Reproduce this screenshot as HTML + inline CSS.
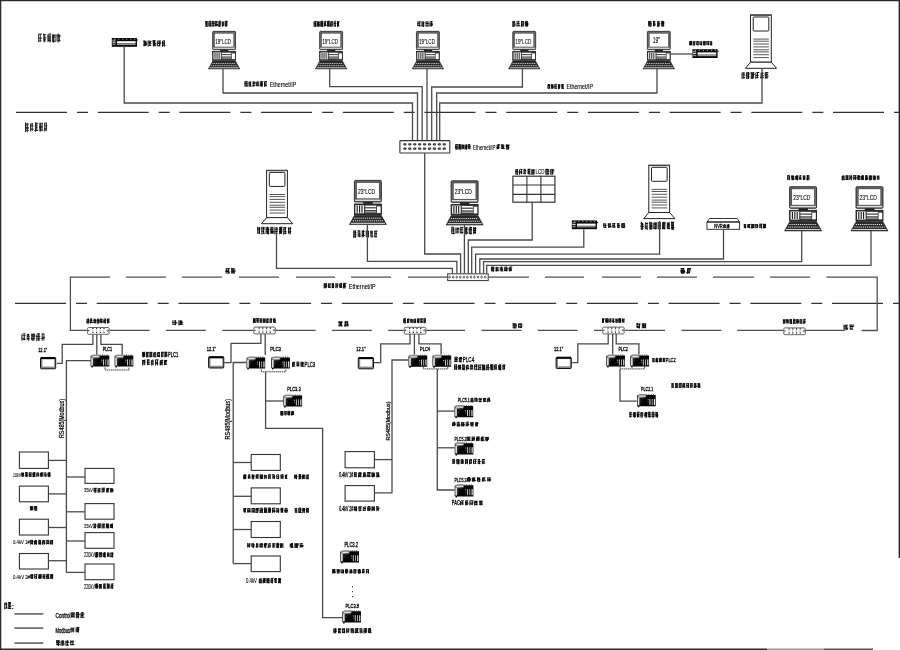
<!DOCTYPE html>
<html><head><meta charset="utf-8"><style>
html,body{margin:0;padding:0;background:#fff;width:900px;height:650px;overflow:hidden}
svg{display:block;will-change:transform}
</style></head><body>
<svg width="900" height="650" viewBox="0 0 900 650" font-family="Liberation Sans, sans-serif">
<rect width="900" height="650" fill="#fff"/>
<line x1="0" y1="0.6" x2="900" y2="0.6" stroke="#2a2a2a" stroke-width="1.4" />
<line x1="0.6" y1="0" x2="0.6" y2="650" stroke="#2a2a2a" stroke-width="1.4" />
<line x1="899.3" y1="0" x2="899.3" y2="558" stroke="#2a2a2a" stroke-width="1.4" />
<line x1="0" y1="649.3" x2="767" y2="649.3" stroke="#2a2a2a" stroke-width="1.4" />
<line x1="767" y1="649.3" x2="824" y2="649.3" stroke="#999" stroke-width="1.4" />
<line x1="824" y1="649.3" x2="873" y2="649.3" stroke="#555" stroke-width="1.4" />
<line x1="16" y1="112.3" x2="900" y2="112.3" stroke="#333" stroke-width="1.2" stroke-dasharray="51 10 11 9.7"/>
<line x1="15" y1="303.3" x2="900" y2="303.3" stroke="#333" stroke-width="1.2" stroke-dasharray="51 10 11 9.7"/>
<path d="M39.17 34.1H41.96M38.95 38.14H42.12M39.18 40.97H41.45M38.63 33.65V42.19M40.27 33.98V41.58M43.18 34.61H45.58M43.41 37.95H46.36M43.16 39.94H46.12M43.87 33.62V41.91M44.81 34.17V42.23M48.3 34.03H51.13M47.56 36.84H50.78M47.76 38.87H50.74M48.14 40.51H50.87M47.94 34.23V41.87M49 34.44V41.75M50.19 34.18V42.66M53.11 35.24H55.4M52.59 37.09H55.49M52.98 41.2H55.43M52.41 34.25V42.02M53.49 34.42V42.66M55.05 34.38V41.98M56.67 35.42H60.5M57.74 36.75H60.39M57.63 40.64H60.41M56.99 34.34V41.48M58.17 33.4V42.7M59.38 34.4V41.52" fill="none" stroke="#111" stroke-width="0.9"/>
<path d="M25.59 123.91H28.62M25.32 125.04H28.54M25.52 127.38H28.84M25.91 128.67H28.72M26.09 130.64H28.85M25.49 122.34V131.94M27.25 123.43V132.26M30.73 124H32.98M30.02 125.92H33.56M30.36 129.19H33.7M30.58 123.71V131.41M32.21 122.91V130.96M35.32 123.29H38.34M35.24 125.62H37.46M35.05 127.76H37.55M34.45 130.49H38.24M35.45 122.33V131.97M36.73 122.88V131.06M39.97 123.32H42.8M39.11 126.28H42.43M39.3 127.68H42.05M39.59 129.96H42.55M39.85 122.72V131.34M40.64 123.43V131.44M42.13 123.34V131.06M44.83 123.16H47.11M44.45 125.84H47.37M44.25 128.34H47.11M43.75 129.91H46.62M44.71 122.59V131.58M46.38 123.1V130.84" fill="none" stroke="#111" stroke-width="0.9"/>
<path d="M22.5 333.85H25.56M22.36 335.7H25.52M21.55 338.26H25.18M22.36 339.57H25.47M21.86 334.15V340.71M24.3 334.23V340.19M27.19 334.36H29.29M26.81 336.12H29.94M26.71 338.78H30.15M27.3 334.23V339.95M28.67 333.86V340.88M31.44 334.36H34.96M31.42 335.74H35.36M32.1 336.74H35.21M31.37 338.64H34.78M31.67 339.86H34.18M31.71 333.81V340.14M32.97 333.47V340.76M34.08 333.53V340.22M37.11 333.85H40.05M36.39 336.4H40.29M37 338.77H40.36M36.73 334.47V340.95M38.15 333.33V341.01M39.04 333.96V341.08M41.77 333.79H44.01M42.21 337.32H44.83M41.28 338.45H44.18M42.16 333.96V340.71M44.01 333.55V340.6" fill="none" stroke="#111" stroke-width="0.9"/>
<g transform="translate(111.8 38)">
<rect x="0" y="0" width="25.2" height="8.8" fill="#0a0a0a"/>
<path d="M2.5 1.2H24.5" stroke="#fff" stroke-width="0.7" stroke-dasharray="1 3"/>
<rect x="5.2" y="3.2" width="18.6" height="2.2" fill="#fff"/>
<rect x="5.2" y="5.8" width="18.6" height="1.2" fill="#999"/>
<rect x="0.6" y="1.6" width="3.2" height="1.4" fill="#888"/>
<rect x="0.6" y="3.6" width="3.2" height="1.2" fill="#ddd"/>
<rect x="0.6" y="5.6" width="3.2" height="1.4" fill="#888"/>
<path d="M25.2 1.4L26.8 1.8L25.2 3" fill="#111"/>
</g>
<path d="M143.5 41.29H146.25M143.99 42.43H146.78M144.17 43.54H146.75M143.71 44.45H146.94M143.79 45.42H146.2M144.03 40.2V46.37M145.8 41.06V45.87M148.49 41.31H151.63M148.5 42.55H150.87M148.68 43.69H151.54M148.48 45.4H151.2M148.09 40.36V46.62M149.79 40.78V45.92M152.49 40.73H155.67M152.55 42.13H155.43M153.05 43.49H156.11M153.14 44.46H155.57M153.04 45.35H156.24M153.35 40.48V46.4M154.52 40.4V46.37M157.67 41H161M157.98 42.77H161.04M157.38 43.66H161M158.05 45.72H160.3M157.33 40.74V46.44M159.67 41.12V46.32M162.76 40.81H164.96M162.69 42.42H164.62M161.89 43.71H164.91M162.35 45.11H165.58M162.47 41.13V46.65M164.22 40.98V46.8" fill="none" stroke="#0a0a0a" stroke-width="0.95"/>
<g transform="translate(212.3 31) scale(0.85)">
<rect x="0.4" y="0.4" width="27" height="21.6" rx="1" fill="#6a6a6a" stroke="#111" stroke-width="0.8"/>
<rect x="2.6" y="2.6" width="22.6" height="16.2" fill="#fff" stroke="#222" stroke-width="0.5"/>
<rect x="1.2" y="19.6" width="25.4" height="1.4" fill="#ddd"/>
<rect x="9.2" y="22" width="9.6" height="1.8" fill="#222"/>
<rect x="0.4" y="24" width="27" height="10.4" fill="#3a3a3a" stroke="#111" stroke-width="0.8"/>
<rect x="1.4" y="25.2" width="8.6" height="8" fill="#fff"/>
<path d="M3.2 25.6V32.8M5.6 25.6V32.8M8 25.6V32.8" stroke="#111" stroke-width="1.1"/>
<rect x="11.2" y="25.6" width="11" height="1.6" fill="#fff"/>
<rect x="11.2" y="28.4" width="11" height="1.6" fill="#fff"/>
<rect x="11.2" y="31.2" width="11" height="1.2" fill="#bbb"/>
<rect x="23" y="26.4" width="3.6" height="6.6" fill="#fff"/>
<polygon points="0.6,35.2 27.2,35.2 32.4,44.6 -4.6,44.6" fill="#2a2a2a" stroke="#111" stroke-width="0.6"/>
<path d="M0.2 38.2H27.6" stroke="#fff" stroke-width="0.9" stroke-dasharray="1.2 0.9"/>
<path d="M-1.2 40.8H29" stroke="#fff" stroke-width="0.9" stroke-dasharray="1.2 0.9"/>
<path d="M-3.2 43.3H31" stroke="#e8e8e8" stroke-width="1"/>
<text x="12.85" y="15.5" text-anchor="middle" font-family="Liberation Sans" font-size="9" fill="#000" stroke="#000" stroke-width="0.1" textLength="18.7" lengthAdjust="spacingAndGlyphs">19&quot;LCD</text>
</g>
<path d="M205.32 21.5H207.65M205.86 22.32H207.85M205.65 23.63H207.62M205.99 24.93H208M205.56 26.23H207.9M205.86 21.02V26.24M206.74 21.73V26.4M209.08 21.35H211.22M208.77 23.16H211.34M209.11 24.33H210.7M208.48 25.83H211.33M208.87 21.26V26.21M210.31 21.17V26.95M211.98 21.54H214.56M211.97 23.47H214.66M212.4 25.91H214.57M212.01 21.51V26.73M213 21.07V26.29M213.96 21.51V26.14M215.8 21.63H217.6M215.87 22.7H217.22M215.12 24.6H217.94M215.47 25.47H217.75M215.6 21.05V26.52M216.82 21.16V26.29M218.8 21.2H221.14M219.14 22.38H220.76M219.2 23.74H221.2M218.39 25.06H220.91M218.42 25.97H220.38M218.94 21.11V26.96M219.9 21.18V26.79M221.83 22.16H224.23M221.89 24.08H224.32M222.17 25.29H223.83M222.34 21.67V26.69M223.22 21.73V26.29M225.1 21.25H227.8M225.73 22.75H227.01M225.7 23.98H227.46M225.15 25.06H227.13M225.63 25.7H226.94M225.18 21.25V26.29M226.05 21.01V26.8M226.81 21.14V26.35" fill="none" stroke="#0a0a0a" stroke-width="0.95"/>
<g transform="translate(319.3 31) scale(0.85)">
<rect x="0.4" y="0.4" width="27" height="21.6" rx="1" fill="#6a6a6a" stroke="#111" stroke-width="0.8"/>
<rect x="2.6" y="2.6" width="22.6" height="16.2" fill="#fff" stroke="#222" stroke-width="0.5"/>
<rect x="1.2" y="19.6" width="25.4" height="1.4" fill="#ddd"/>
<rect x="9.2" y="22" width="9.6" height="1.8" fill="#222"/>
<rect x="0.4" y="24" width="27" height="10.4" fill="#3a3a3a" stroke="#111" stroke-width="0.8"/>
<rect x="1.4" y="25.2" width="8.6" height="8" fill="#fff"/>
<path d="M3.2 25.6V32.8M5.6 25.6V32.8M8 25.6V32.8" stroke="#111" stroke-width="1.1"/>
<rect x="11.2" y="25.6" width="11" height="1.6" fill="#fff"/>
<rect x="11.2" y="28.4" width="11" height="1.6" fill="#fff"/>
<rect x="11.2" y="31.2" width="11" height="1.2" fill="#bbb"/>
<rect x="23" y="26.4" width="3.6" height="6.6" fill="#fff"/>
<polygon points="0.6,35.2 27.2,35.2 32.4,44.6 -4.6,44.6" fill="#2a2a2a" stroke="#111" stroke-width="0.6"/>
<path d="M0.2 38.2H27.6" stroke="#fff" stroke-width="0.9" stroke-dasharray="1.2 0.9"/>
<path d="M-1.2 40.8H29" stroke="#fff" stroke-width="0.9" stroke-dasharray="1.2 0.9"/>
<path d="M-3.2 43.3H31" stroke="#e8e8e8" stroke-width="1"/>
<text x="12.85" y="15.5" text-anchor="middle" font-family="Liberation Sans" font-size="9" fill="#000" stroke="#000" stroke-width="0.1" textLength="18.7" lengthAdjust="spacingAndGlyphs">19&quot;LCD</text>
</g>
<path d="M314.46 21.36H316.49M314.26 23.39H316.12M314.51 24.19H316.4M314.59 25.92H316.69M314.05 21.52V26.89M315.24 21.13V26.96M315.79 21.13V26.47M317.31 21.95H319.44M317.43 22.71H319.61M317.57 24.67H319.85M317.45 26.02H319.66M317.43 21.66V26.4M318.44 21.7V26.48M319.03 21.55V26.54M321.14 21.31H323.19M321.15 23.2H323.26M321.14 24.63H322.79M320.99 25.6H322.49M320.72 21.17V26.73M321.7 21.12V26.89M322.57 21.43V26.97M324.53 21.48H326.41M323.76 24.03H326.34M323.78 25.45H326.58M324.32 21.58V26.61M325.42 21.15V26.22M327.64 21.29H329.88M327.65 23.86H329.34M327.82 25.41H329.73M327.45 21.02V26.66M328.44 21.63V26.38M329.15 20.91V26.92M330.66 21.73H333.02M331.04 22.91H332.77M330.31 24.31H332.85M330.8 25.95H332.36M330.7 21.63V26.96M332.15 21.71V26.7M334.36 21.18H335.7M333.74 23.3H336.38M334.44 25.93H335.71M334.14 21.58V26.46M335.32 21.25V26.83M337.66 21.86H339.71M337.65 23.44H339M337.23 25.89H339.31M337.49 21.02V26.95M338.51 21.52V26.13" fill="none" stroke="#0a0a0a" stroke-width="0.95"/>
<g transform="translate(416.1 31) scale(0.85)">
<rect x="0.4" y="0.4" width="27" height="21.6" rx="1" fill="#6a6a6a" stroke="#111" stroke-width="0.8"/>
<rect x="2.6" y="2.6" width="22.6" height="16.2" fill="#fff" stroke="#222" stroke-width="0.5"/>
<rect x="1.2" y="19.6" width="25.4" height="1.4" fill="#ddd"/>
<rect x="9.2" y="22" width="9.6" height="1.8" fill="#222"/>
<rect x="0.4" y="24" width="27" height="10.4" fill="#3a3a3a" stroke="#111" stroke-width="0.8"/>
<rect x="1.4" y="25.2" width="8.6" height="8" fill="#fff"/>
<path d="M3.2 25.6V32.8M5.6 25.6V32.8M8 25.6V32.8" stroke="#111" stroke-width="1.1"/>
<rect x="11.2" y="25.6" width="11" height="1.6" fill="#fff"/>
<rect x="11.2" y="28.4" width="11" height="1.6" fill="#fff"/>
<rect x="11.2" y="31.2" width="11" height="1.2" fill="#bbb"/>
<rect x="23" y="26.4" width="3.6" height="6.6" fill="#fff"/>
<polygon points="0.6,35.2 27.2,35.2 32.4,44.6 -4.6,44.6" fill="#2a2a2a" stroke="#111" stroke-width="0.6"/>
<path d="M0.2 38.2H27.6" stroke="#fff" stroke-width="0.9" stroke-dasharray="1.2 0.9"/>
<path d="M-1.2 40.8H29" stroke="#fff" stroke-width="0.9" stroke-dasharray="1.2 0.9"/>
<path d="M-3.2 43.3H31" stroke="#e8e8e8" stroke-width="1"/>
<text x="12.85" y="15.5" text-anchor="middle" font-family="Liberation Sans" font-size="9" fill="#000" stroke="#000" stroke-width="0.1" textLength="18.7" lengthAdjust="spacingAndGlyphs">19&quot;LCD</text>
</g>
<path d="M417.85 21.93H420.58M417.27 23.72H419.94M417.77 25.42H420.46M417.82 21.7V26.18M419.76 21.02V26.87M422.13 22.17H424.71M421.67 23.91H424.32M421.54 25.74H424.45M422.03 21.17V26.65M423.41 21.61V26.94M426.12 21.87H428.15M425.79 23.56H428.71M426.25 25.78H428.84M426 21.63V26.8M428 21.59V26.38M430.31 21.54H432.62M430.28 23.36H432.72M430.35 24.66H432.94M430.46 25.37H432.61M430.02 21.53V26.78M431.58 21.15V26.48" fill="none" stroke="#0a0a0a" stroke-width="0.95"/>
<g transform="translate(512.4 31) scale(0.85)">
<rect x="0.4" y="0.4" width="27" height="21.6" rx="1" fill="#6a6a6a" stroke="#111" stroke-width="0.8"/>
<rect x="2.6" y="2.6" width="22.6" height="16.2" fill="#fff" stroke="#222" stroke-width="0.5"/>
<rect x="1.2" y="19.6" width="25.4" height="1.4" fill="#ddd"/>
<rect x="9.2" y="22" width="9.6" height="1.8" fill="#222"/>
<rect x="0.4" y="24" width="27" height="10.4" fill="#3a3a3a" stroke="#111" stroke-width="0.8"/>
<rect x="1.4" y="25.2" width="8.6" height="8" fill="#fff"/>
<path d="M3.2 25.6V32.8M5.6 25.6V32.8M8 25.6V32.8" stroke="#111" stroke-width="1.1"/>
<rect x="11.2" y="25.6" width="11" height="1.6" fill="#fff"/>
<rect x="11.2" y="28.4" width="11" height="1.6" fill="#fff"/>
<rect x="11.2" y="31.2" width="11" height="1.2" fill="#bbb"/>
<rect x="23" y="26.4" width="3.6" height="6.6" fill="#fff"/>
<polygon points="0.6,35.2 27.2,35.2 32.4,44.6 -4.6,44.6" fill="#2a2a2a" stroke="#111" stroke-width="0.6"/>
<path d="M0.2 38.2H27.6" stroke="#fff" stroke-width="0.9" stroke-dasharray="1.2 0.9"/>
<path d="M-1.2 40.8H29" stroke="#fff" stroke-width="0.9" stroke-dasharray="1.2 0.9"/>
<path d="M-3.2 43.3H31" stroke="#e8e8e8" stroke-width="1"/>
<text x="12.85" y="15.5" text-anchor="middle" font-family="Liberation Sans" font-size="9" fill="#000" stroke="#000" stroke-width="0.1" textLength="18.7" lengthAdjust="spacingAndGlyphs">19&quot;LCD</text>
</g>
<path d="M512.6 21.74H515.02M513.05 22.59H515.1M512.88 24.01H515.78M513.01 25.15H515.62M512.72 26.12H515.12M512.83 21.13V26.97M514.17 20.83V26.17M517.43 21.39H519.26M516.95 23.53H519.27M516.56 25.86H520.23M517.04 21.26V26.24M518.82 21.02V26.18M521.4 21.47H523.84M521.14 23.05H524.41M521.76 24.74H523.88M521.52 25.92H523.92M521.48 21.41V26.83M523.27 20.96V26.17M525.47 21.46H527.67M525.17 22.89H527.71M525.23 23.57H528.45M525.31 24.64H528.47M525.48 26.04H528.13M525.42 21.22V26.25M526.65 21.35V26.16M527.59 21.67V26.12" fill="none" stroke="#0a0a0a" stroke-width="0.95"/>
<g transform="translate(647 31) scale(0.85)">
<rect x="0.4" y="0.4" width="27" height="21.6" rx="1" fill="#6a6a6a" stroke="#111" stroke-width="0.8"/>
<rect x="2.6" y="2.6" width="22.6" height="16.2" fill="#fff" stroke="#222" stroke-width="0.5"/>
<rect x="1.2" y="19.6" width="25.4" height="1.4" fill="#ddd"/>
<rect x="9.2" y="22" width="9.6" height="1.8" fill="#222"/>
<rect x="0.4" y="24" width="27" height="10.4" fill="#3a3a3a" stroke="#111" stroke-width="0.8"/>
<rect x="1.4" y="25.2" width="8.6" height="8" fill="#fff"/>
<path d="M3.2 25.6V32.8M5.6 25.6V32.8M8 25.6V32.8" stroke="#111" stroke-width="1.1"/>
<rect x="11.2" y="25.6" width="11" height="1.6" fill="#fff"/>
<rect x="11.2" y="28.4" width="11" height="1.6" fill="#fff"/>
<rect x="11.2" y="31.2" width="11" height="1.2" fill="#bbb"/>
<rect x="23" y="26.4" width="3.6" height="6.6" fill="#fff"/>
<polygon points="0.6,35.2 27.2,35.2 32.4,44.6 -4.6,44.6" fill="#2a2a2a" stroke="#111" stroke-width="0.6"/>
<path d="M0.2 38.2H27.6" stroke="#fff" stroke-width="0.9" stroke-dasharray="1.2 0.9"/>
<path d="M-1.2 40.8H29" stroke="#fff" stroke-width="0.9" stroke-dasharray="1.2 0.9"/>
<path d="M-3.2 43.3H31" stroke="#e8e8e8" stroke-width="1"/>
<text x="11" y="14.4" text-anchor="middle" font-family="Liberation Sans" font-size="10" fill="#000" stroke="#000" stroke-width="0.1" textLength="8.6" lengthAdjust="spacingAndGlyphs">19&quot;</text>
</g>
<path d="M648.65 21.75H651.54M648.55 23.24H651.4M648.62 24.04H651.91M649.37 26.04H651.69M648.61 21.05V26.29M649.77 20.89V26.59M650.88 21.34V26.27M653.08 21.51H655.28M653.07 23.98H655.67M653.12 25.14H655.58M653.5 20.96V26.29M654.61 21.51V26.19M657.47 21.49H659.61M657.22 22.95H659.72M657.72 23.87H660.41M657.43 24.77H659.63M656.82 26.02H659.9M657.78 21.39V26.93M658.74 21.58V26.16M661.06 21.4H663.91M661.77 22.58H664.32M661.62 23.48H664.01M662.04 24.53H663.68M661.78 25.7H663.7M661.75 20.96V26.49M662.56 21.62V26.38M663.7 21.49V26.71" fill="none" stroke="#0a0a0a" stroke-width="0.95"/>
<g transform="translate(692.4 49.2)">
<rect x="0" y="0" width="25.2" height="8.8" fill="#0a0a0a"/>
<path d="M2.5 1.2H24.5" stroke="#fff" stroke-width="0.7" stroke-dasharray="1 3"/>
<rect x="5.2" y="3.2" width="18.6" height="2.2" fill="#fff"/>
<rect x="5.2" y="5.8" width="18.6" height="1.2" fill="#999"/>
<rect x="0.6" y="1.6" width="3.2" height="1.4" fill="#888"/>
<rect x="0.6" y="3.6" width="3.2" height="1.2" fill="#ddd"/>
<rect x="0.6" y="5.6" width="3.2" height="1.4" fill="#888"/>
<path d="M25.2 1.4L26.8 1.8L25.2 3" fill="#111"/>
</g>
<path d="M689.44 41.58H691.92M689.7 42.5H691.68M689.64 43.4H692.02M689.44 43.89H691.39M689.22 44.77H692.14M689.71 41.55V45M690.47 41.08V45.29M691.55 41.17V45.15M693.43 41.76H695.58M693.15 42.63H695.04M693.48 43.49H695.14M692.84 44.98H694.86M693.15 41.07V45.31M694.73 41.58V45.36M696.71 41.61H698.97M696.42 43.08H698.41M696.28 44.61H698.68M696.83 41.03V45.04M698.12 41.66V45.6M699.88 42.08H702.31M700.29 43.32H701.9M699.89 44.43H702.14M699.91 41.35V44.95M701.55 41.35V45.57M703.56 41.56H705.85M703.44 42.41H705.35M703.28 43.11H705.43M703.71 43.8H705.43M703.54 45.03H705.44M703.36 41.31V45.25M704.15 41.63V45M704.94 41.36V45.11M706.92 41.76H709.33M707.17 43.04H708.72M706.56 44.22H709.22M706.84 41.02V44.94M708.38 41.4V45.38M709.92 41.81H711.94M710.2 43.16H712.17M710.24 44.67H712.1M710.21 41.54V45.31M711.67 41.33V45.5" fill="none" stroke="#0a0a0a" stroke-width="0.95"/>
<line x1="671" y1="54" x2="692.4" y2="54" stroke="#4a4a4a" stroke-width="1.3" />
<g transform="translate(750 14.4)">
<rect x="0.5" y="0.5" width="20.8" height="47.3" fill="#fff" stroke="#222" stroke-width="1"/>
<path d="M0.5 0.8H21.3" stroke="#444" stroke-width="1.2"/>
<rect x="3.2" y="2.6" width="15.6" height="14" rx="0.8" fill="#fff" stroke="#222" stroke-width="1"/>
<path d="M3.3 24.7H18.9M3.3 26.8H18.9M3.3 29.6H18.9M3.3 32.5H18.9M3.3 35.4H18.9M3.3 37.5H18.9M3.3 40.3H18.9M3.3 43.2H18.9" stroke="#444" stroke-width="0.9"/>
<polygon points="0.5,47.8 21.3,47.8 26.6,53.9 -4.6,53.9" fill="#fff" stroke="#222" stroke-width="1"/>
</g>
<path d="M741.98 73H744.85M742.41 74.97H745.35M742.51 77.56H745.09M742.07 72.91V79.05M743.8 72.51V78.7M746.66 72.75H749.26M746.94 73.89H749.85M746.16 75.32H749.12M747.07 76.77H749.59M746.96 78.05H749.3M746.65 72.38V78.9M748.44 72.35V78.71M750.63 72.9H754.51M751.83 74.48H754.59M751.67 75.88H754.09M750.96 77.56H753.53M751.27 72.27V78.91M752.28 72.88V79.04M753.34 72.04V78.45M756.34 72.5H759.31M755.86 75.4H758.52M756.01 77.42H758.33M755.78 72.76V78.89M757.52 72.33V78.28M760.99 73.12H763.59M760.98 75.67H763.73M760.13 77.41H763.8M761.02 72.87V78.68M762.58 72.22V78.61M765.11 72.66H768.39M765.02 74.45H768.15M765.14 76.17H768.6M765.84 77.86H768.12M765.27 72.45V78.74M766.83 72.04V78.19" fill="none" stroke="#0a0a0a" stroke-width="0.95"/>
<polyline points="124.2,46.8 124.2,103 412.5,103 412.5,140" fill="none" stroke="#4a4a4a" stroke-width="1.3" />
<polyline points="223,69 223,93 417.5,93 417.5,140" fill="none" stroke="#4a4a4a" stroke-width="1.3" />
<polyline points="329.7,69 329.7,86.6 422.2,86.6 422.2,140" fill="none" stroke="#4a4a4a" stroke-width="1.3" />
<polyline points="427,69 427,140" fill="none" stroke="#4a4a4a" stroke-width="1.3" />
<polyline points="522.4,69 522.4,87 431.7,87 431.7,140" fill="none" stroke="#4a4a4a" stroke-width="1.3" />
<polyline points="657,69 657,93 436.7,93 436.7,140" fill="none" stroke="#4a4a4a" stroke-width="1.3" />
<polyline points="762,68.4 762,103 439.7,103 439.7,140" fill="none" stroke="#4a4a4a" stroke-width="1.3" />
<path d="M245.22 81.45H247.33M244.86 83.69H247.38M245.49 85.97H247.61M244.92 81.33V86.59M246.07 81.39V86.43M247.08 81.65V86.76M249.06 82.08H250.97M248.61 83.08H250.84M249.18 84.52H250.91M248.71 86.05H251.2M249.09 81.71V86.35M250.66 81.57V86.88M252.82 82.35H255.55M252.82 83.38H255.46M252.42 85.55H255.28M253.11 81.22V86.97M253.91 81.35V86.29M256.93 81.95H258.71M256.6 83H258.82M256.2 84.14H258.54M256.68 85.7H259.26M256.31 81.82V86.25M258.03 81.7V86.15M260.43 81.75H263.17M259.99 84.08H263.02M260.43 85.13H262.85M260.3 81.27V86.51M261.52 81.54V86.63M262.17 81.49V86.71M264.69 81.59H267.04M264.4 84H266.33M264.36 85.39H266.46M264.49 81.46V86.76M266.01 81.79V86.63" fill="none" stroke="#0a0a0a" stroke-width="0.95"/>
<text x="269.7" y="87" font-family="Liberation Sans" font-size="7.45" font-weight="normal" fill="#000" stroke="#000" stroke-width="0.12" textLength="26.6" lengthAdjust="spacingAndGlyphs">Ethernet/IP</text>
<path d="M547.97 84.53H549.92M547.8 85.53H550.37M547.89 87.03H549.71M547.87 88.26H549.73M547.97 84.59V88.56M549.43 84.18V88.78M551.39 85.03H553.31M551.57 86.21H553.38M551.05 87.56H553.64M551.33 83.92V88.82M552.34 84.44V88.95M552.99 84.53V88.6M554.74 84.4H556.62M554.32 86.46H556.52M554.71 88.32H556.66M554.88 83.95V88.6M556.11 84.39V88.76M557.84 84.81H560.25M557.89 85.99H560.57M557.86 87.13H560.11M558.48 88.08H560.06M558.54 84.44V89.16M559.33 84.19V88.78M561.17 84.49H563.77M561.55 85.51H563.58M561.81 86.62H563.41M561.8 87.24H563.58M561.47 88.39H564.05M561.97 84.02V88.41M562.73 84.4V88.74" fill="none" stroke="#0a0a0a" stroke-width="0.95"/>
<text x="566.4" y="89.2" font-family="Liberation Sans" font-size="7.18" font-weight="normal" fill="#000" stroke="#000" stroke-width="0.12" textLength="26.7" lengthAdjust="spacingAndGlyphs">Ethernet/IP</text>
<rect x="399.9" y="140.6" width="49.9" height="12.4" rx="0.6" fill="#fff" stroke="#333" stroke-width="1.1" />
<rect x="403.2" y="143.15" width="3.4" height="2.3" rx="1.1" fill="#2e2e2e"/>
<rect x="404.6" y="143.9" width="0.6" height="0.8" fill="#999"/>
<rect x="408.12" y="143.15" width="3.4" height="2.3" rx="1.1" fill="#2e2e2e"/>
<rect x="409.52" y="143.9" width="0.6" height="0.8" fill="#999"/>
<rect x="413.04" y="143.15" width="3.4" height="2.3" rx="1.1" fill="#2e2e2e"/>
<rect x="414.44" y="143.9" width="0.6" height="0.8" fill="#999"/>
<rect x="417.96" y="143.15" width="3.4" height="2.3" rx="1.1" fill="#2e2e2e"/>
<rect x="419.36" y="143.9" width="0.6" height="0.8" fill="#999"/>
<rect x="422.88" y="143.15" width="3.4" height="2.3" rx="1.1" fill="#2e2e2e"/>
<rect x="424.28" y="143.9" width="0.6" height="0.8" fill="#999"/>
<rect x="427.8" y="143.15" width="3.4" height="2.3" rx="1.1" fill="#2e2e2e"/>
<rect x="429.2" y="143.9" width="0.6" height="0.8" fill="#999"/>
<rect x="432.72" y="143.15" width="3.4" height="2.3" rx="1.1" fill="#2e2e2e"/>
<rect x="434.12" y="143.9" width="0.6" height="0.8" fill="#999"/>
<rect x="437.64" y="143.15" width="3.4" height="2.3" rx="1.1" fill="#2e2e2e"/>
<rect x="439.04" y="143.9" width="0.6" height="0.8" fill="#999"/>
<rect x="442.56" y="143.15" width="3.4" height="2.3" rx="1.1" fill="#2e2e2e"/>
<rect x="443.96" y="143.9" width="0.6" height="0.8" fill="#999"/>
<rect x="403.2" y="147.55" width="3.4" height="2.3" rx="1.1" fill="#2e2e2e"/>
<rect x="404.6" y="148.3" width="0.6" height="0.8" fill="#999"/>
<rect x="408.12" y="147.55" width="3.4" height="2.3" rx="1.1" fill="#2e2e2e"/>
<rect x="409.52" y="148.3" width="0.6" height="0.8" fill="#999"/>
<rect x="413.04" y="147.55" width="3.4" height="2.3" rx="1.1" fill="#2e2e2e"/>
<rect x="414.44" y="148.3" width="0.6" height="0.8" fill="#999"/>
<rect x="417.96" y="147.55" width="3.4" height="2.3" rx="1.1" fill="#2e2e2e"/>
<rect x="419.36" y="148.3" width="0.6" height="0.8" fill="#999"/>
<rect x="422.88" y="147.55" width="3.4" height="2.3" rx="1.1" fill="#2e2e2e"/>
<rect x="424.28" y="148.3" width="0.6" height="0.8" fill="#999"/>
<rect x="427.8" y="147.55" width="3.4" height="2.3" rx="1.1" fill="#2e2e2e"/>
<rect x="429.2" y="148.3" width="0.6" height="0.8" fill="#999"/>
<rect x="432.72" y="147.55" width="3.4" height="2.3" rx="1.1" fill="#2e2e2e"/>
<rect x="434.12" y="148.3" width="0.6" height="0.8" fill="#999"/>
<rect x="437.64" y="147.55" width="3.4" height="2.3" rx="1.1" fill="#2e2e2e"/>
<rect x="439.04" y="148.3" width="0.6" height="0.8" fill="#999"/>
<rect x="442.56" y="147.55" width="3.4" height="2.3" rx="1.1" fill="#2e2e2e"/>
<rect x="443.96" y="148.3" width="0.6" height="0.8" fill="#999"/>
<path d="M455.48 144.62H457.97M455.4 146.28H457.39M455.2 147.5H457.65M455.99 148.95H457.91M455.68 144.5V149.51M457.06 144.48V149.58M458.42 144.62H460.45M458.55 146.03H461.16M458.63 147.56H461.08M458.4 148.95H460.72M458.93 144.76V149.06M459.53 144.72V148.88M460.23 144.31V149.65M461.83 145.39H464.01M462.21 147.04H464.32M462.23 148.12H463.75M461.84 144.26V149.42M462.85 144.8V149.24M463.69 144.73V148.91M465.18 145.17H467.43M465.45 146.41H467.5M464.97 147.21H467.38M465.26 148.41H467.17M465.07 144.68V149.68M466.16 144.86V149.4M466.68 144.39V149.67M468.17 144.57H470.24M468.48 146.41H470.74M468.31 147.95H470.49M468.59 144.43V149.04M469.78 144.76V149.34" fill="none" stroke="#0a0a0a" stroke-width="0.95"/>
<text x="473" y="149.6" font-family="Liberation Sans" font-size="7.18" font-weight="normal" fill="#000" stroke="#000" stroke-width="0.12" textLength="22.5" lengthAdjust="spacingAndGlyphs">Ethernet/IP</text>
<path d="M497.29 144.77H500.32M497.16 145.97H499.73M496.47 147.7H499.7M497.15 148.28H499.24M497.11 144.87V149.33M498.45 144.63V148.97M501.22 144.98H504.19M501.31 145.96H504.26M501.4 146.88H504.23M501.82 147.52H503.83M501.17 148.51H504.85M501.88 144.23V148.9M503.01 144.95V149.14M506.11 145.02H509.41M505.71 145.54H509.52M505.74 146.51H509.09M506.1 147.64H509.49M506.12 148.86H509.26M506.79 144.35V149.63M508.28 144.98V149.65" fill="none" stroke="#0a0a0a" stroke-width="0.95"/>
<g transform="translate(266.1 169.8)">
<rect x="0.5" y="0.5" width="20.8" height="47.3" fill="#fff" stroke="#222" stroke-width="1"/>
<path d="M0.5 0.8H21.3" stroke="#444" stroke-width="1.2"/>
<rect x="3.2" y="2.6" width="15.6" height="14" rx="0.8" fill="#fff" stroke="#222" stroke-width="1"/>
<path d="M3.3 24.7H18.9M3.3 26.8H18.9M3.3 29.6H18.9M3.3 32.5H18.9M3.3 35.4H18.9M3.3 37.5H18.9M3.3 40.3H18.9M3.3 43.2H18.9" stroke="#444" stroke-width="0.9"/>
<polygon points="0.5,47.8 21.3,47.8 26.6,53.9 -4.6,53.9" fill="#fff" stroke="#222" stroke-width="1"/>
</g>
<path d="M257.1 228.07H260.36M257.37 229.19H260.31M257.64 230.86H259.72M258.1 232.73H260.05M257.79 226.76V233.94M259.5 227.14V234.14M262.21 227.34H264.73M261.62 229.01H264.95M261.96 231.41H264.11M262.39 233.39H264.78M261.79 226.96V234.62M263.63 227.26V233.54M266.1 228.04H268.85M266.24 229.56H269.03M265.96 231.17H268.69M266.61 233.01H268.5M266.07 226.82V234.12M267.47 226.7V234.09M268.68 227.23V234.67M271.1 227.4H273.14M270.18 229.52H272.95M270.25 231.52H273.9M270.96 232.77H273.61M270.88 226.85V233.95M271.87 227.38V233.7M272.96 227.33V234.04M275.58 227.96H277.84M275.06 229.63H278.07M274.59 231.62H277.58M275.45 233.44H277.21M274.87 226.99V234.21M276.86 227.23V233.66M279.97 227.3H282.57M279.62 229.67H282.32M279.29 231.42H282.29M279.78 232.87H282.09M279.64 226.99V234.27M280.51 227.23V233.82M281.59 226.92V233.84M283.53 227.64H286.4M283.9 229.17H286.03M283.78 231.45H286.55M283.73 233.24H286.57M283.78 227.61V234.69M285.38 227.09V234.2M288.64 228.22H291.19M288.61 229.21H290.83M288.24 231.39H291.23M287.98 232.79H290.71M288.43 227.29V233.68M290.29 226.88V234.52" fill="none" stroke="#0a0a0a" stroke-width="0.95"/>
<g transform="translate(354 180) scale(1)">
<rect x="0.4" y="0.4" width="27" height="21.6" rx="1" fill="#6a6a6a" stroke="#111" stroke-width="0.8"/>
<rect x="2.6" y="2.6" width="22.6" height="16.2" fill="#fff" stroke="#222" stroke-width="0.5"/>
<rect x="1.2" y="19.6" width="25.4" height="1.4" fill="#ddd"/>
<rect x="9.2" y="22" width="9.6" height="1.8" fill="#222"/>
<rect x="0.4" y="24" width="27" height="10.4" fill="#3a3a3a" stroke="#111" stroke-width="0.8"/>
<rect x="1.4" y="25.2" width="8.6" height="8" fill="#fff"/>
<path d="M3.2 25.6V32.8M5.6 25.6V32.8M8 25.6V32.8" stroke="#111" stroke-width="1.1"/>
<rect x="11.2" y="25.6" width="11" height="1.6" fill="#fff"/>
<rect x="11.2" y="28.4" width="11" height="1.6" fill="#fff"/>
<rect x="11.2" y="31.2" width="11" height="1.2" fill="#bbb"/>
<rect x="23" y="26.4" width="3.6" height="6.6" fill="#fff"/>
<polygon points="0.6,35.2 27.2,35.2 32.4,44.6 -4.6,44.6" fill="#2a2a2a" stroke="#111" stroke-width="0.6"/>
<path d="M0.2 38.2H27.6" stroke="#fff" stroke-width="0.9" stroke-dasharray="1.2 0.9"/>
<path d="M-1.2 40.8H29" stroke="#fff" stroke-width="0.9" stroke-dasharray="1.2 0.9"/>
<path d="M-3.2 43.3H31" stroke="#e8e8e8" stroke-width="1"/>
<text x="12.6" y="14.1" text-anchor="middle" font-family="Liberation Sans" font-size="7.3" fill="#000" stroke="#000" stroke-width="0.1" textLength="17.2" lengthAdjust="spacingAndGlyphs">23&quot;LCD</text>
</g>
<path d="M353.57 231.09H356.2M353.57 232.74H356.51M354.12 234.11H355.72M354.13 234.95H356.59M353.23 236.81H356.1M353.75 230.42V237.72M355.37 230.6V237.84M358.17 230.91H360.12M358.28 234.07H360.49M358.15 236.1H360.81M358.21 230.02V236.93M359.78 230.74V237.21M362.09 231.7H364.76M362.17 234.02H364.34M361.68 235.49H364.89M362.22 230.31V237.37M363.43 230.07V237.05M366.45 231.67H368.51M366.42 232.91H368.34M366.6 236.62H368.42M366.25 230.25V236.9M367.47 230.02V237.25M368.43 230.69V237.35M370.02 231.83H372.85M370.87 232.91H372.91M370.78 236.05H373.25M370.86 230.72V236.84M372.07 230.59V237.92M374.63 231.15H377.46M375.07 233.65H377.05M374.81 236.44H376.66M374.74 230.74V237.36M376.12 230.73V237.61" fill="none" stroke="#0a0a0a" stroke-width="0.95"/>
<g transform="translate(450.7 180.4) scale(1)">
<rect x="0.4" y="0.4" width="27" height="21.6" rx="1" fill="#6a6a6a" stroke="#111" stroke-width="0.8"/>
<rect x="2.6" y="2.6" width="22.6" height="16.2" fill="#fff" stroke="#222" stroke-width="0.5"/>
<rect x="1.2" y="19.6" width="25.4" height="1.4" fill="#ddd"/>
<rect x="9.2" y="22" width="9.6" height="1.8" fill="#222"/>
<rect x="0.4" y="24" width="27" height="10.4" fill="#3a3a3a" stroke="#111" stroke-width="0.8"/>
<rect x="1.4" y="25.2" width="8.6" height="8" fill="#fff"/>
<path d="M3.2 25.6V32.8M5.6 25.6V32.8M8 25.6V32.8" stroke="#111" stroke-width="1.1"/>
<rect x="11.2" y="25.6" width="11" height="1.6" fill="#fff"/>
<rect x="11.2" y="28.4" width="11" height="1.6" fill="#fff"/>
<rect x="11.2" y="31.2" width="11" height="1.2" fill="#bbb"/>
<rect x="23" y="26.4" width="3.6" height="6.6" fill="#fff"/>
<polygon points="0.6,35.2 27.2,35.2 32.4,44.6 -4.6,44.6" fill="#2a2a2a" stroke="#111" stroke-width="0.6"/>
<path d="M0.2 38.2H27.6" stroke="#fff" stroke-width="0.9" stroke-dasharray="1.2 0.9"/>
<path d="M-1.2 40.8H29" stroke="#fff" stroke-width="0.9" stroke-dasharray="1.2 0.9"/>
<path d="M-3.2 43.3H31" stroke="#e8e8e8" stroke-width="1"/>
<text x="12.6" y="14.1" text-anchor="middle" font-family="Liberation Sans" font-size="7.3" fill="#000" stroke="#000" stroke-width="0.1" textLength="17.2" lengthAdjust="spacingAndGlyphs">23&quot;LCD</text>
</g>
<path d="M451.72 227.27H453.94M451.88 229.09H454.44M451.29 230.95H454.41M451.7 233.35H454.8M451.79 226.85V233.71M453.66 227.52V234.46M456.5 228.39H458.99M456.47 229.73H459.21M456.05 232.03H459M455.92 227.42V233.52M457.82 227.43V233.6M460.81 227.41H463.32M460.18 229.63H462.64M460.42 232.39H463.23M460.26 226.77V233.55M461.94 227.3V234.13M464.74 228.1H467.66M464.78 229.55H467.43M464.33 231.15H467.2M465.39 232.88H468.01M464.8 227.69V234.34M466.03 226.87V234.58M466.77 227.13V234.17M469.7 227.48H471.88M468.68 229.59H472.07M469.16 233.33H471.51M469.24 227.76V233.94M470.18 226.74V234.34M471.21 227.08V234.46M472.98 228.46H476.51M472.97 230.43H476.23M473.86 232.47H475.87M473.63 226.94V234.32M474.8 227.49V233.51M475.37 227.04V233.74" fill="none" stroke="#0a0a0a" stroke-width="0.95"/>
<rect x="512.9" y="176.2" width="42" height="26" rx="0" fill="#fff" stroke="#333" stroke-width="1.2" />
<path d="M526.9 176.2V202.2M540.9 176.2V202.2M512.9 185.04H554.9M512.9 194.4H554.9" stroke="#333" stroke-width="1.1"/>
<path d="M515.89 169.77H517.92M515.21 171.26H517.6M515.18 171.92H518.53M516.02 173.89H517.67M515.89 169.08V174.49M517.35 169.53V174.86M520.1 169.39H522.52M519.92 171.72H522.33M519.21 172.85H522.5M519.47 169.46V174.71M521.43 169.05V174.19M523.7 170.11H525.93M523.91 170.98H526.41M523.53 173.33H525.9M524.06 168.88V174.23M525.09 168.84V174.26M527.65 169.27H530.35M528.23 171.49H529.99M527.94 173.22H530.22M528.03 169.24V174.05M528.56 168.94V174.29M529.81 168.86V174.95M532.33 169.83H534.53M532.11 170.79H534.6M532.36 172.57H534.01M532.21 174.14H534.33M531.79 169.26V174.78M532.9 169.43V174.04M533.93 169.56V174.2" fill="none" stroke="#0a0a0a" stroke-width="0.95"/>
<text x="535.6" y="174.4" font-family="Liberation Sans" font-size="6.62" font-weight="normal" fill="#000" stroke="#000" stroke-width="0.1" textLength="9" lengthAdjust="spacingAndGlyphs">LCD</text>
<path d="M545.74 169.54H549.13M546.38 171.19H549.51M546.34 173.78H549.23M545.87 168.9V174.48M547.01 168.63V174.97M548.16 169.52V174.82M550.94 169.74H554.04M551.37 170.88H554.26M550.59 172.08H553.78M551.12 173.95H553.44M550.72 169.06V174.69M552.58 169V174.26" fill="none" stroke="#0a0a0a" stroke-width="0.95"/>
<g transform="translate(571.8 220.4)">
<rect x="0" y="0" width="25.2" height="8.8" fill="#0a0a0a"/>
<path d="M2.5 1.2H24.5" stroke="#fff" stroke-width="0.7" stroke-dasharray="1 3"/>
<rect x="5.2" y="3.2" width="18.6" height="2.2" fill="#fff"/>
<rect x="5.2" y="5.8" width="18.6" height="1.2" fill="#999"/>
<rect x="0.6" y="1.6" width="3.2" height="1.4" fill="#888"/>
<rect x="0.6" y="3.6" width="3.2" height="1.2" fill="#ddd"/>
<rect x="0.6" y="5.6" width="3.2" height="1.4" fill="#888"/>
<path d="M25.2 1.4L26.8 1.8L25.2 3" fill="#111"/>
</g>
<path d="M603.35 223.82H605.86M603.09 225.42H606.7M604.01 227.35H606.38M603.76 223.69V227.74M605.4 223.83V227.8M607.7 223.91H611.14M607.86 225.01H610.8M608.57 226.23H611.34M608.63 226.89H611.58M608.44 223.42V227.82M610.02 223.23V227.69M612.48 223.6H615.41M612.67 225.49H615.06M612.55 226.98H615.79M612.87 223.35V227.58M614.37 223.68V228.03M616.82 223.76H619.73M616.89 225.53H620.03M617.39 227.2H620.11M617.81 223.53V228.11M618.8 223.82V228.12M621.46 223.61H624.84M621.6 224.93H625.03M621.64 226.09H625.4M621.98 227.47H624.7M621.73 223.86V227.65M622.94 223.6V228.08M624.25 223.46V228.16" fill="none" stroke="#0a0a0a" stroke-width="0.95"/>
<g transform="translate(648.3 164.7)">
<rect x="0.5" y="0.5" width="20.8" height="47.3" fill="#fff" stroke="#222" stroke-width="1"/>
<path d="M0.5 0.8H21.3" stroke="#444" stroke-width="1.2"/>
<rect x="3.2" y="2.6" width="15.6" height="14" rx="0.8" fill="#fff" stroke="#222" stroke-width="1"/>
<path d="M3.3 24.7H18.9M3.3 26.8H18.9M3.3 29.6H18.9M3.3 32.5H18.9M3.3 35.4H18.9M3.3 37.5H18.9M3.3 40.3H18.9M3.3 43.2H18.9" stroke="#444" stroke-width="0.9"/>
<polygon points="0.5,47.8 21.3,47.8 26.6,53.9 -4.6,53.9" fill="#fff" stroke="#222" stroke-width="1"/>
</g>
<path d="M640.71 223.36H642.97M641.29 224.68H643.4M640.35 226.29H644.05M641.24 228.38H643.42M641.31 221.73V230.02M642.6 222.96V229.74M645.62 223.36H648.16M645.35 226.27H647.46M644.87 228.17H647.94M645.33 222.23V229.07M647.1 222.63V230.15M649.35 222.92H652.03M649.86 225.27H652.15M650.1 226.56H652.11M649.78 228.07H652.27M649.77 221.73V229.43M650.86 222.33V230.02M651.9 222.6V229.46M653.6 223.02H657.02M654.27 224.52H656.24M654.22 226.86H656.49M653.68 228.43H656.13M653.84 222.81V229.18M655.22 222.53V229.39M656.23 222.81V229.25M658.13 222.32H660.94M658.42 225.43H661.15M658.06 228.71H661.02M658.13 222.33V229.08M659.36 222.02V229.27M660.29 222.44V229.06M662.55 222.63H665.6M662.98 223.8H665.23M663.09 225.64H665.35M662.71 227.67H664.87M662.52 228.33H665.12M662.58 222.34V229.32M663.6 222.24V229.26M664.79 222.55V229.53M667.6 223.26H669.34M667.41 224.72H670.13M667.28 226.32H669.93M667.42 228.38H670.27M667.35 222.73V228.93M668.08 222.4V229.32M669.12 222.05V229.23M671.33 222.29H674.24M671.61 225.48H673.82M671.22 227.7H674.41M671.65 221.78V229.28M672.35 221.92V230.01M673.36 221.99V230.11" fill="none" stroke="#0a0a0a" stroke-width="0.95"/>
<g transform="translate(706.6 218)">
<path d="M2.8 0.5H30.6L33 4.2H0.4Z" fill="#fff" stroke="#222" stroke-width="0.9"/>
<path d="M0.4 4.1H33" stroke="#111" stroke-width="1.4"/>
<rect x="0.4" y="4.2" width="32.6" height="7.1" fill="#fff" stroke="#222" stroke-width="0.9"/>
</g>
<text x="714.2" y="228.4" font-family="Liberation Sans" font-size="5.24" font-weight="normal" fill="#111" stroke="#111" stroke-width="0.32" textLength="8.6" lengthAdjust="spacingAndGlyphs">NVR</text>
<path d="M723.86 224.78H725.43M723.38 225.86H725.8M723.89 227.39H725.97M723.71 224.68V228.12M725.08 224.61V228.12M727.44 224.6H729.26M727.07 225.71H729.73M727.45 226.69H729.38M726.84 227.64H729.27M727.08 224.72V228.48M728.55 224.33V228.49" fill="none" stroke="#0a0a0a" stroke-width="0.95"/>
<path d="M743.75 224.71H746.15M743.84 226.39H746.12M744.44 227.41H745.91M744.35 224.06V228.14M745.6 224.32V228.43M748.01 224.51H750.6M747.34 225.79H749.9M748.25 227.33H750.31M747.74 224.26V228.01M748.83 224.11V228.01M749.59 224V228.31M751.79 224.67H754.61M751.79 225.4H754.48M751.34 226.7H754.46M751.32 227.54H754.55M751.69 223.78V228.61M752.79 224.23V228.47M753.65 224.08V228.17M755.18 224.81H757.8M755.56 225.74H758.49M755.79 227.38H757.54M755.71 223.98V228.24M757.49 224.11V228.27M759.39 224.19H762.37M759.84 225.62H761.38M759.21 227.2H762.34M759.83 223.88V228.06M761.38 223.8V228.62M763.22 224.42H765.7M763.76 225.84H765.28M763.04 227.24H765.85M763.45 223.76V228.3M764.4 224.17V228.39M765.47 223.82V228.03" fill="none" stroke="#0a0a0a" stroke-width="0.95"/>
<g transform="translate(789.2 186.3) scale(1)">
<rect x="0.4" y="0.4" width="27" height="21.6" rx="1" fill="#6a6a6a" stroke="#111" stroke-width="0.8"/>
<rect x="2.6" y="2.6" width="22.6" height="16.2" fill="#fff" stroke="#222" stroke-width="0.5"/>
<rect x="1.2" y="19.6" width="25.4" height="1.4" fill="#ddd"/>
<rect x="9.2" y="22" width="9.6" height="1.8" fill="#222"/>
<rect x="0.4" y="24" width="27" height="10.4" fill="#3a3a3a" stroke="#111" stroke-width="0.8"/>
<rect x="1.4" y="25.2" width="8.6" height="8" fill="#fff"/>
<path d="M3.2 25.6V32.8M5.6 25.6V32.8M8 25.6V32.8" stroke="#111" stroke-width="1.1"/>
<rect x="11.2" y="25.6" width="11" height="1.6" fill="#fff"/>
<rect x="11.2" y="28.4" width="11" height="1.6" fill="#fff"/>
<rect x="11.2" y="31.2" width="11" height="1.2" fill="#bbb"/>
<rect x="23" y="26.4" width="3.6" height="6.6" fill="#fff"/>
<polygon points="0.6,35.2 27.2,35.2 32.4,44.6 -4.6,44.6" fill="#2a2a2a" stroke="#111" stroke-width="0.6"/>
<path d="M0.2 38.2H27.6" stroke="#fff" stroke-width="0.9" stroke-dasharray="1.2 0.9"/>
<path d="M-1.2 40.8H29" stroke="#fff" stroke-width="0.9" stroke-dasharray="1.2 0.9"/>
<path d="M-3.2 43.3H31" stroke="#e8e8e8" stroke-width="1"/>
<text x="12.6" y="14.1" text-anchor="middle" font-family="Liberation Sans" font-size="7.3" fill="#000" stroke="#000" stroke-width="0.1" textLength="17.2" lengthAdjust="spacingAndGlyphs">23&quot;LCD</text>
</g>
<path d="M787.45 175.54H789.67M788.01 176.86H789.67M788.03 178.01H789.89M788.23 179.33H789.78M787.65 175.4V180.07M789.57 175.89V179.84M791.06 175.96H793.7M791.23 176.6H794.07M791.16 177.61H793.97M791.75 178.6H794.15M792.04 179.6H794.26M791.92 175.79V180.06M792.93 175.62V180.25M795.88 176.18H797.98M795.18 177.05H798.15M795.71 178.53H797.57M795.88 179.13H797.83M795.28 175.81V179.79M796.56 175.55V179.63M797.51 175.23V180.37M799.54 175.58H801.22M799.26 177.75H801.24M799.14 178.94H801.79M799.18 175.78V179.91M800.63 175.43V179.84M802.89 175.86H805.25M802.72 177.21H805.22M803.01 178.2H805.3M802.97 179.23H805.05M803.41 175.98V180.03M804.76 175.89V179.99M806.72 175.64H808.97M807.14 177.12H808.95M806.93 178.14H808.82M806.47 179.09H808.78M807.14 175.39V180.38M807.67 175.86V180.3M808.97 175.37V180.27" fill="none" stroke="#0a0a0a" stroke-width="0.95"/>
<g transform="translate(855.6 186.3) scale(1)">
<rect x="0.4" y="0.4" width="27" height="21.6" rx="1" fill="#6a6a6a" stroke="#111" stroke-width="0.8"/>
<rect x="2.6" y="2.6" width="22.6" height="16.2" fill="#fff" stroke="#222" stroke-width="0.5"/>
<rect x="1.2" y="19.6" width="25.4" height="1.4" fill="#ddd"/>
<rect x="9.2" y="22" width="9.6" height="1.8" fill="#222"/>
<rect x="0.4" y="24" width="27" height="10.4" fill="#3a3a3a" stroke="#111" stroke-width="0.8"/>
<rect x="1.4" y="25.2" width="8.6" height="8" fill="#fff"/>
<path d="M3.2 25.6V32.8M5.6 25.6V32.8M8 25.6V32.8" stroke="#111" stroke-width="1.1"/>
<rect x="11.2" y="25.6" width="11" height="1.6" fill="#fff"/>
<rect x="11.2" y="28.4" width="11" height="1.6" fill="#fff"/>
<rect x="11.2" y="31.2" width="11" height="1.2" fill="#bbb"/>
<rect x="23" y="26.4" width="3.6" height="6.6" fill="#fff"/>
<polygon points="0.6,35.2 27.2,35.2 32.4,44.6 -4.6,44.6" fill="#2a2a2a" stroke="#111" stroke-width="0.6"/>
<path d="M0.2 38.2H27.6" stroke="#fff" stroke-width="0.9" stroke-dasharray="1.2 0.9"/>
<path d="M-1.2 40.8H29" stroke="#fff" stroke-width="0.9" stroke-dasharray="1.2 0.9"/>
<path d="M-3.2 43.3H31" stroke="#e8e8e8" stroke-width="1"/>
<text x="12.6" y="14.1" text-anchor="middle" font-family="Liberation Sans" font-size="7.3" fill="#000" stroke="#000" stroke-width="0.1" textLength="17.2" lengthAdjust="spacingAndGlyphs">23&quot;LCD</text>
</g>
<path d="M841.99 176.05H844.43M841.86 177.2H844.2M841.85 179.18H844.95M842.15 175.94V180.29M842.81 175.91V180.31M844.04 175.84V180.28M845.6 175.9H848.65M846.14 176.87H848.49M845.73 177.92H848.62M846.09 178.8H848.43M845.88 179.42H848.73M846.1 175.39V180.11M847.33 175.47V179.66M849.49 176.04H851.96M849.84 177.21H852.39M849.57 178.82H851.8M849.82 175.38V180.08M851.62 175.48V180.31M853.25 175.72H856.47M853.64 177.59H856.66M853.36 178.71H856.45M853.82 175.27V180.17M855.66 175.3V180.16M857.87 175.95H859.86M857.18 176.96H860.55M857.36 178.31H859.62M858.06 179.12H860.41M857.84 175.27V179.86M858.48 175.25V180.28M859.79 175.75V179.71M861.89 175.72H863.88M861.63 177H863.49M861.88 178.14H864.09M861.45 179.44H863.57M861.52 175.72V179.73M862.56 175.23V179.67M863.37 175.98V180.11M865.93 175.52H867.44M865.9 176.82H867.81M865.87 177.76H867.77M865.7 178.64H868.26M865.56 179.41H867.86M865.57 175.36V180.26M866.92 175.42V180.03M869.15 175.97H871.48M869.24 176.58H872.26M869.05 177.77H871.94M869.43 178.71H872.17M869.29 179.69H871.7M869.3 175.69V180.11M870.54 175.45V180.2M871.2 175.54V179.68M873.65 175.99H875.78M873.3 177.22H875.87M873.16 178.25H876.09M873.49 179.21H875.22M873.3 175.3V179.85M874.23 175.94V180.33M875.17 175.97V180.02M876.86 176.33H879.06M877.56 177.88H879.47M877.48 179.3H879.23M877.35 175.69V179.63M878.81 175.42V179.67" fill="none" stroke="#0a0a0a" stroke-width="0.95"/>
<polyline points="424.7,153 424.7,254 460.6,254 460.6,273.3" fill="none" stroke="#4a4a4a" stroke-width="1.3" />
<polyline points="276.5,233.5 276.5,268.3 452.4,268.3 452.4,273.3" fill="none" stroke="#4a4a4a" stroke-width="1.3" />
<polyline points="367.4,225 367.4,261.3 456.9,261.3 456.9,273.3" fill="none" stroke="#4a4a4a" stroke-width="1.3" />
<polyline points="464.4,225 464.4,273.3" fill="none" stroke="#4a4a4a" stroke-width="1.3" />
<polyline points="532.2,202.2 532.2,240 468.3,240 468.3,273.3" fill="none" stroke="#4a4a4a" stroke-width="1.3" />
<polyline points="583.8,229.2 583.8,247.2 471.7,247.2 471.7,273.3" fill="none" stroke="#4a4a4a" stroke-width="1.3" />
<polyline points="659.6,221.3 659.6,254.2 475.6,254.2 475.6,273.3" fill="none" stroke="#4a4a4a" stroke-width="1.3" />
<polyline points="723.5,229.5 723.5,259 479.8,259 479.8,273.3" fill="none" stroke="#4a4a4a" stroke-width="1.3" />
<polyline points="801.7,230.4 801.7,261.6 483.6,261.6 483.6,273.3" fill="none" stroke="#4a4a4a" stroke-width="1.3" />
<polyline points="871,230.8 871,265.4 486.7,265.4 486.7,273.3" fill="none" stroke="#4a4a4a" stroke-width="1.3" />
<rect x="447.7" y="273.8" width="40.5" height="6.8" rx="0" fill="#fff" stroke="#333" stroke-width="1" />
<ellipse cx="449.6" cy="277.2" rx="0.75" ry="1.05" fill="none" stroke="#222" stroke-width="0.7"/>
<ellipse cx="453.15" cy="277.2" rx="0.75" ry="1.05" fill="none" stroke="#222" stroke-width="0.7"/>
<ellipse cx="456.7" cy="277.2" rx="0.75" ry="1.05" fill="none" stroke="#222" stroke-width="0.7"/>
<ellipse cx="460.25" cy="277.2" rx="0.75" ry="1.05" fill="none" stroke="#222" stroke-width="0.7"/>
<ellipse cx="463.8" cy="277.2" rx="0.75" ry="1.05" fill="none" stroke="#222" stroke-width="0.7"/>
<ellipse cx="467.35" cy="277.2" rx="0.75" ry="1.05" fill="none" stroke="#222" stroke-width="0.7"/>
<ellipse cx="470.9" cy="277.2" rx="0.75" ry="1.05" fill="none" stroke="#222" stroke-width="0.7"/>
<ellipse cx="474.45" cy="277.2" rx="0.75" ry="1.05" fill="none" stroke="#222" stroke-width="0.7"/>
<ellipse cx="478" cy="277.2" rx="0.75" ry="1.05" fill="none" stroke="#222" stroke-width="0.7"/>
<ellipse cx="481.55" cy="277.2" rx="0.75" ry="1.05" fill="none" stroke="#222" stroke-width="0.7"/>
<ellipse cx="485.1" cy="277.2" rx="0.75" ry="1.05" fill="none" stroke="#222" stroke-width="0.7"/>
<path d="M491.15 267.17H493.98M491.49 268.13H494.51M491.88 269.75H493.98M491.7 270.95H493.82M491.43 267V271.2M492.81 266.91V271.08M493.68 266.78V271.68M496.18 267.84H498.34M496.31 269.06H498.06M495.6 270.52H498.61M496.07 266.77V271.38M496.92 267.15V271.56M497.93 267.08V271.23M500.6 267.23H502.6M500.19 268.22H503.13M500.73 269.61H503.18M500.6 270.92H503.37M500.23 267.36V270.97M501.72 266.84V271.12M505.27 267.05H507.34M505.13 268.29H507.95M504.57 269.04H507.89M504.31 270.21H506.97M504.31 270.62H507.81M504.71 266.8V271.1M506.33 267.2V271.37M509.79 267.05H512.32M508.67 268.28H511.58M508.71 269.01H511.43M509.3 269.87H512.02M509.12 270.7H511.62M509.31 267.17V271.36M510.88 267.32V271.03" fill="none" stroke="#0a0a0a" stroke-width="0.95"/>
<polyline points="110,277.2 70.4,277.2 70.4,330.4 87.1,330.4" fill="none" stroke="#505050" stroke-width="1.3" />
<line x1="126" y1="277.2" x2="166" y2="277.2" stroke="#505050" stroke-width="1.3" />
<line x1="182" y1="277.2" x2="222" y2="277.2" stroke="#505050" stroke-width="1.3" />
<line x1="239" y1="277.2" x2="279" y2="277.2" stroke="#505050" stroke-width="1.3" />
<line x1="296" y1="277.2" x2="335" y2="277.2" stroke="#505050" stroke-width="1.3" />
<line x1="351" y1="277.2" x2="391" y2="277.2" stroke="#505050" stroke-width="1.3" />
<line x1="408" y1="277.2" x2="447.2" y2="277.2" stroke="#505050" stroke-width="1.3" />
<line x1="488.7" y1="277.2" x2="529" y2="277.2" stroke="#505050" stroke-width="1.3" />
<line x1="545" y1="277.2" x2="584" y2="277.2" stroke="#505050" stroke-width="1.3" />
<line x1="602" y1="277.2" x2="641" y2="277.2" stroke="#505050" stroke-width="1.3" />
<line x1="657" y1="277.2" x2="697" y2="277.2" stroke="#505050" stroke-width="1.3" />
<line x1="713" y1="277.2" x2="754" y2="277.2" stroke="#505050" stroke-width="1.3" />
<line x1="770" y1="277.2" x2="810" y2="277.2" stroke="#505050" stroke-width="1.3" />
<polyline points="826.4,277.2 877.2,277.2 877.2,330.5 861.6,330.5" fill="none" stroke="#505050" stroke-width="1.3" />
<path d="M225.83 268.71H230.1M225.68 270.34H229.1M225.34 271.54H229.55M226.71 272.97H230M226.18 268.59V273.52M228.55 268.57V273.59M230.88 268.71H234.36M231.1 270.1H235.59M231.24 271.6H235.46M230.85 272.96H234.84M231.76 268.85V273.08M232.78 268.81V272.9M233.99 268.41V273.66" fill="none" stroke="#0a0a0a" stroke-width="0.95"/>
<path d="M680.69 268.51H684.3M680.59 270.49H685M680.5 271.45H685.35M680.97 272.71H685.15M681.27 268.71V273.8M682.61 268.44V273.8M683.68 268.37V273.61M687.49 268.57H691.12M687.45 269.79H691.05M687.09 271.12H690.53M686.34 272.44H690.07M687.54 268.49V273.9M689.03 268.18V273.8" fill="none" stroke="#0a0a0a" stroke-width="0.95"/>
<path d="M323.88 283.93H326.6M324.02 284.99H327.04M324.82 286.53H326.91M323.97 287.72H326.25M324.18 283.24V288.27M325.13 283.39V287.85M326.35 283.15V287.71M328.01 283.93H330.71M327.79 285.84H330.24M328.33 287.42H330.64M328.41 283.59V287.89M330 283.59V287.85M331.57 283.73H334.02M331.8 284.56H334M331.77 285.81H334.43M332.1 286.74H333.84M331.62 287.57H333.88M332.38 283.73V288.19M333.27 283.28V287.87M335.41 284.03H338.09M336.27 285.2H338.49M335.45 286.72H337.64M335.92 283.3V288.18M337.28 283.49V288.21M339.58 283.37H341.97M339.2 284.81H341.66M339.88 285.33H341.56M339.53 286.61H341.74M339.98 287.34H342.23M339.72 283.77V287.87M341.44 283.33V287.73M343.88 283.35H346.25M343.07 284.55H345.64M343.22 285.47H345.64M343.05 286.55H346.07M343.33 287.77H345.41M343.44 283.01V288.3M344.7 283.08V288.24" fill="none" stroke="#0a0a0a" stroke-width="0.95"/>
<text x="348.8" y="288.5" font-family="Liberation Sans" font-size="7.31" font-weight="normal" fill="#000" stroke="#000" stroke-width="0.12" textLength="26.9" lengthAdjust="spacingAndGlyphs">Ethernet/IP</text>
<line x1="109.6" y1="330.4" x2="149.6" y2="330.4" stroke="#505050" stroke-width="1.3" />
<line x1="165.9" y1="330.4" x2="205.9" y2="330.4" stroke="#505050" stroke-width="1.3" />
<line x1="222.2" y1="330.4" x2="253.3" y2="330.4" stroke="#505050" stroke-width="1.3" />
<line x1="275.6" y1="330.4" x2="315.6" y2="330.4" stroke="#505050" stroke-width="1.3" />
<line x1="331.9" y1="330.4" x2="371.9" y2="330.4" stroke="#505050" stroke-width="1.3" />
<line x1="388.2" y1="330.4" x2="403.8" y2="330.4" stroke="#505050" stroke-width="1.3" />
<line x1="425.1" y1="330.4" x2="465.1" y2="330.4" stroke="#505050" stroke-width="1.3" />
<line x1="481.4" y1="330.4" x2="521.4" y2="330.4" stroke="#505050" stroke-width="1.3" />
<line x1="537.7" y1="330.4" x2="577.7" y2="330.4" stroke="#505050" stroke-width="1.3" />
<line x1="594" y1="330.4" x2="602.2" y2="330.4" stroke="#505050" stroke-width="1.3" />
<line x1="625.1" y1="330.4" x2="665.1" y2="330.4" stroke="#505050" stroke-width="1.3" />
<line x1="681.4" y1="330.4" x2="721.4" y2="330.4" stroke="#505050" stroke-width="1.3" />
<line x1="737.2" y1="330.4" x2="783.3" y2="330.4" stroke="#505050" stroke-width="1.3" />
<line x1="805.6" y1="330.4" x2="845" y2="330.4" stroke="#505050" stroke-width="1.3" />
<path d="M173.84 320.98H175.96M172.64 322.3H176.56M173.85 322.94H177.31M173.38 324.54H176.04M172.87 320.29V324.87M175.6 320.22V324.85M179.45 321.26H182.48M179.25 322.66H183.1M178.69 324.19H183.08M178.87 320.2V325.56M180.34 320.24V324.96M181.47 320.66V324.97" fill="none" stroke="#0a0a0a" stroke-width="0.95"/>
<path d="M338.46 321.91H342.45M338.63 322.62H342.45M339.65 324.22H341.88M338.61 325.79H342.77M339.17 321.29V326.48M340.62 321.72V326.03M341.56 321.4V326.14M344.82 321.63H348.24M345.26 322.83H348.01M345.25 324.33H348.81M344.02 325.84H348.84M344.99 321.55V326.52M345.75 321.28V326.31M347.56 321.74V326.02" fill="none" stroke="#0a0a0a" stroke-width="0.95"/>
<path d="M512.87 323.83H516.12M513.58 324.97H517.08M513.8 326.09H516.45M513.82 327.76H515.98M513.13 323.47V328.23M514.23 323.4V328.53M516.05 323.72V328.38M518.97 323.87H522.19M518.76 324.73H522.45M518.62 326.25H522.38M519.25 327.41H522.07M518.57 323.42V328.18M521.05 323.71V328.07" fill="none" stroke="#0a0a0a" stroke-width="0.95"/>
<path d="M635.97 324.02H640.62M636.91 324.81H639.53M636.19 326.59H640.05M637.15 327.55H639.56M637.22 323.01V328.16M639.52 323.56V328.57M642.66 323.91H645.27M641.91 324.94H646.42M642.24 325.79H645.69M643.15 326.55H645.81M642.75 327.67H646.05M642.37 323.35V328.3M643.68 323.46V328M645.46 323.23V328.23" fill="none" stroke="#0a0a0a" stroke-width="0.95"/>
<path d="M844.84 325.21H847.98M843.68 326.21H846.9M844.69 327.04H847.19M844.17 328.15H848.2M844.83 329.07H848.05M843.99 324.63V329.69M846.71 325.18V330.01M849.34 325.09H854.07M849.9 326.52H853.99M850.22 329.04H852.78M850.25 325.01V330.05M852.08 325.23V329.82" fill="none" stroke="#0a0a0a" stroke-width="0.95"/>
<rect x="87.6" y="327.5" width="21.5" height="6.8" rx="1" fill="#fff" stroke="#555" stroke-width="0.9" />
<path d="M92.4 328.5h1.1M92.4 332.5h1.1M96.1 328.5h1.1M96.1 332.5h1.1M99.8 328.5h1.1M99.8 332.5h1.1M103.5 328.5h1.1M103.5 332.5h1.1" stroke="#111" stroke-width="1.2"/>
<path d="M92.7 329.8v1.6M96.4 329.8v1.6M100.1 329.8v1.6M103.8 329.8v1.6" stroke="#777" stroke-width="0.6"/>
<path d="M88.3 329.8l1.6 0.8 -1.6 0.8z" fill="#222"/>
<circle cx="107.7" cy="330.6" r="0.8" fill="none" stroke="#333" stroke-width="0.6"/>
<path d="M87.43 318.98H88.97M87.18 320.16H89.4M87.02 321.82H89.38M86.72 322.81H89.23M86.96 319.01V323.48M88.09 318.67V323.01M88.71 318.91V323.42M90.32 318.91H92.46M90.55 320.69H92.6M90.32 322.59H92.83M90.52 318.99V323.48M91.55 319.14V322.87M93.84 319.21H95.47M93.55 320.57H96.17M93.39 322.62H95.71M94.03 319.29V322.89M94.85 319.26V323.29M95.29 319.19V323.23M97.04 319.1H98.82M97.14 320.28H99.66M96.8 320.72H99.67M97.61 321.93H99.44M97.46 322.59H98.86M97.12 319.18V323.57M98.2 319.19V323.46M98.8 319.2V323.57M100.18 319.01H102.5M100.73 320.15H102.39M100.39 321.55H102.69M100.28 322.37H102.26M100.37 318.72V322.88M101.84 319.05V323.32M104.14 318.97H106.1M104.14 320.23H106.17M103.58 320.83H106.1M103.43 322.01H105.95M103.85 322.63H105.94M103.88 319.21V322.97M105.46 318.87V323.41M106.98 319.1H109.44M106.88 320.55H108.82M107.12 321.44H109.27M106.89 322.61H109.36M107.52 318.83V323.37M108.79 318.95V322.97" fill="none" stroke="#0a0a0a" stroke-width="0.95"/>
<rect x="253.8" y="327.1" width="21.5" height="6.8" rx="1" fill="#fff" stroke="#555" stroke-width="0.9" />
<path d="M258.6 328.1h1.1M258.6 332.1h1.1M262.3 328.1h1.1M262.3 332.1h1.1M266 328.1h1.1M266 332.1h1.1M269.7 328.1h1.1M269.7 332.1h1.1" stroke="#111" stroke-width="1.2"/>
<path d="M258.9 329.4v1.6M262.6 329.4v1.6M266.3 329.4v1.6M270 329.4v1.6" stroke="#777" stroke-width="0.6"/>
<path d="M254.5 329.4l1.6 0.8 -1.6 0.8z" fill="#222"/>
<circle cx="273.9" cy="330.2" r="0.8" fill="none" stroke="#333" stroke-width="0.6"/>
<path d="M252.95 318.75H255.67M253.44 319.91H255.03M253.57 320.54H255.19M252.93 321.27H255.27M252.95 322.31H255.78M253.49 318.78V322.76M254.27 318.63V322.51M255.13 318.42V322.78M256.32 318.51H259.13M256.35 319.94H258.39M256.92 320.89H258.97M257.05 321.9H258.32M256.98 318.22V322.67M258.01 318.79V322.8M259.59 319.1H262.28M260.42 320.56H262.22M260 322H261.96M260.05 318.3V322.93M261.17 318.28V323.04M262.97 318.95H265.44M263.47 320.2H265.53M263.03 320.9H265.06M263.7 322.12H265.28M263.25 318.69V323.14M264.1 318.64V323.05M265.15 318.85V322.53M266.52 318.91H268.59M266.75 319.81H268.63M266.96 321.31H268.43M266.53 322.49H268.74M266.7 318.88V322.95M267.77 318.48V322.76M270.16 318.9H271.7M270.13 319.76H272.37M270.41 321.04H272.07M269.83 322.19H271.96M270 318.63V322.67M271.2 318.26V322.7M273.07 318.91H275.06M273.14 319.46H275.4M273.37 320.72H275.67M273.53 321.36H275.29M273.4 322.34H275.79M273.66 318.62V322.74M275.03 318.47V322.87" fill="none" stroke="#0a0a0a" stroke-width="0.95"/>
<rect x="404.3" y="327.3" width="21.5" height="6.8" rx="1" fill="#fff" stroke="#555" stroke-width="0.9" />
<path d="M409.1 328.3h1.1M409.1 332.3h1.1M412.8 328.3h1.1M412.8 332.3h1.1M416.5 328.3h1.1M416.5 332.3h1.1M420.2 328.3h1.1M420.2 332.3h1.1" stroke="#111" stroke-width="1.2"/>
<path d="M409.4 329.6v1.6M413.1 329.6v1.6M416.8 329.6v1.6M420.5 329.6v1.6" stroke="#777" stroke-width="0.6"/>
<path d="M405 329.6l1.6 0.8 -1.6 0.8z" fill="#222"/>
<circle cx="424.4" cy="330.4" r="0.8" fill="none" stroke="#333" stroke-width="0.6"/>
<path d="M403.5 318.83H406.07M403.42 319.94H405.63M403.58 320.72H406.04M403.44 321.81H405.86M403.82 322.78H406.28M403.87 318.79V322.92M405.04 318.52V323.36M407.12 319.15H409.67M407.48 320.06H409.23M407.21 321.27H409.02M407.04 322.33H408.82M407.49 318.94V323.1M408.73 318.65V323.11M410.76 319.51H412.48M410.25 320.72H413.01M410.36 322.01H412.66M410.9 318.52V322.92M412 319.11V323.06M414.28 319.07H415.71M414.19 320.11H415.77M414.04 321.34H415.89M414.05 322.6H415.79M413.8 318.98V323.13M415.43 318.79V322.97M417.01 318.96H419.65M416.9 320.08H419.66M417.58 321.36H419.03M417.58 322.19H419.1M417.36 319.11V322.92M417.96 318.9V322.69M418.88 318.49V323.26M420.41 318.73H423.02M420.49 319.83H422.53M420.28 321.49H422.75M420.47 322.08H422.89M420.96 318.93V323.2M421.76 318.87V322.91M423.69 318.74H426.04M423.52 320.06H425.99M424.28 321.3H425.75M423.67 322.34H425.75M424 318.44V323.35M425.13 319.13V322.96" fill="none" stroke="#0a0a0a" stroke-width="0.95"/>
<rect x="602.7" y="327.1" width="21.5" height="6.8" rx="1" fill="#fff" stroke="#555" stroke-width="0.9" />
<path d="M607.5 328.1h1.1M607.5 332.1h1.1M611.2 328.1h1.1M611.2 332.1h1.1M614.9 328.1h1.1M614.9 332.1h1.1M618.6 328.1h1.1M618.6 332.1h1.1" stroke="#111" stroke-width="1.2"/>
<path d="M607.8 329.4v1.6M611.5 329.4v1.6M615.2 329.4v1.6M618.9 329.4v1.6" stroke="#777" stroke-width="0.6"/>
<path d="M603.4 329.4l1.6 0.8 -1.6 0.8z" fill="#222"/>
<circle cx="622.8" cy="330.2" r="0.8" fill="none" stroke="#333" stroke-width="0.6"/>
<path d="M601.97 318.8H604.51M602.64 319.7H604.29M602.35 320.78H603.94M602.33 322.4H603.9M602.61 318.92V322.75M603.43 318.26V322.57M605.64 318.81H607.97M605.63 320.89H608.07M605.72 321.69H607.92M605.7 318.48V322.49M606.49 318.71V322.89M607.36 318.86V323M609.06 319.01H611.07M609.12 320.9H610.95M608.79 321.65H610.96M608.79 318.46V322.67M610.33 318.61V322.74M612.66 318.8H614.35M612.35 320.58H613.98M612.03 321.62H614.71M612.07 318.31V322.54M613.61 318.93V323.02M615.34 319.33H617.53M615.35 320.39H617.87M615.97 322.02H617.3M615.94 318.74V323.15M617.19 318.62V323.09M618.78 318.71H620.96M619.19 319.45H621.26M619.35 320.78H621.46M618.6 321.3H620.89M619.29 322.4H620.82M618.76 318.48V322.58M619.68 318.34V322.93M620.53 318.78V322.72M622.02 319.15H624.52M621.94 320.85H624.13M622.63 321.73H624.1M622.46 318.73V322.59M623.91 318.76V322.87" fill="none" stroke="#0a0a0a" stroke-width="0.95"/>
<rect x="783.8" y="327.9" width="21.5" height="6.8" rx="1" fill="#fff" stroke="#555" stroke-width="0.9" />
<path d="M788.6 328.9h1.1M788.6 332.9h1.1M792.3 328.9h1.1M792.3 332.9h1.1M796 328.9h1.1M796 332.9h1.1M799.7 328.9h1.1M799.7 332.9h1.1" stroke="#111" stroke-width="1.2"/>
<path d="M788.9 330.2v1.6M792.6 330.2v1.6M796.3 330.2v1.6M800 330.2v1.6" stroke="#777" stroke-width="0.6"/>
<path d="M784.5 330.2l1.6 0.8 -1.6 0.8z" fill="#222"/>
<circle cx="803.9" cy="331" r="0.8" fill="none" stroke="#333" stroke-width="0.6"/>
<path d="M782.95 319.86H785.59M783.39 320.83H785.46M783.72 322.69H785.29M783.39 319.7V323.75M784.12 319.62V323.51M784.81 319.57V323.58M786.26 319.9H788.77M786.49 320.68H788.73M786.77 321.99H788.92M787.12 322.74H788.83M786.61 319.01V323.4M787.8 319.72V323.4M789.62 319.71H791.98M789.99 321.39H791.84M790.26 323.05H792.22M789.94 319.48V323.74M790.8 319.16V323.78M791.59 319.16V323.76M793.26 319.37H795.35M793.3 320.67H795.61M793.13 322.15H795.24M793.02 323.3H795.81M793.55 319.55V323.49M794.89 319.01V323.4M796.79 319.61H798.44M796.96 321.48H799.08M796.86 322.91H798.62M796.69 319.49V323.34M797.37 319.06V323.76M798.23 319.53V323.31M799.87 319.78H801.77M800.35 320.95H801.7M800.49 321.57H801.7M799.85 323H802.36M799.94 319.36V323.39M801.27 319.08V323.82M803.75 319.32H805.72M803.34 321.7H805.88M803.01 323.07H805.1M803.24 319.17V323.46M804.71 319.26V323.46" fill="none" stroke="#0a0a0a" stroke-width="0.95"/>
<rect x="40.5" y="357.5" width="15.2" height="11.3" rx="1" fill="#888" stroke="#111" stroke-width="1"/>
<path d="M40.8 358.2H55.4" stroke="#000" stroke-width="1.6"/>
<rect x="42.4" y="359.4" width="11.8" height="7.2" fill="#fff"/>
<text x="38.2" y="352.2" font-family="Liberation Sans" font-size="5.8" font-weight="normal" fill="#000" stroke="#000" stroke-width="0.32" textLength="9" lengthAdjust="spacingAndGlyphs">12.1&quot;</text>
<polyline points="56.7,363.3 62.2,363.3 62.2,344.4 92.9,344.4 92.9,334.6" fill="none" stroke="#4a4a4a" stroke-width="1.3" />
<polyline points="96.8,334.6 96.8,354.7" fill="none" stroke="#4a4a4a" stroke-width="1.3" />
<polyline points="100.9,334.6 100.9,344.4 122.2,344.4 122.2,354.7" fill="none" stroke="#4a4a4a" stroke-width="1.3" />
<g transform="translate(90.3 354.2)">
<path d="M0.3 2.2Q0.3 1.2 1.5 1.2H19V12.4H2.6V13.4H1.2V12.4Q0.3 12.4 0.3 11.4Z" fill="#050505"/>
<polygon points="0.9,1.6 2.6,0.3 9.4,0.3 9.4,3.2 5,5.6 2.8,11.6 0.9,11.6" fill="#8a8a8a"/>
<polygon points="2.8,4.2 8.6,3.2 4.6,6.6 3.6,11.4 2.8,11.4" fill="#1a1a1a"/>
<path d="M2.2 2.4H8.6" stroke="#f4f4f4" stroke-width="0.9"/>
<rect x="1.2" y="3.8" width="1.2" height="7.4" fill="#f0f0f0"/>
<path d="M10.2 0.6V1.4M12.2 0.2V1.4M14.6 0.4V1.4M16.8 0.2V1.4" stroke="#111" stroke-width="0.7"/>
<rect x="11" y="5.6" width="0.8" height="0.9" fill="#fff"/>
<rect x="11" y="8" width="0.8" height="0.7" fill="#999"/>
<rect x="12.8" y="5.2" width="0.9" height="6" fill="#ddd"/>
<rect x="15" y="5.2" width="0.9" height="6" fill="#bbb"/>
<rect x="17.2" y="5.2" width="1.1" height="6" fill="#eee"/>
</g>
<g transform="translate(114.3 354.2)">
<path d="M0.3 2.2Q0.3 1.2 1.5 1.2H19V12.4H2.6V13.4H1.2V12.4Q0.3 12.4 0.3 11.4Z" fill="#050505"/>
<polygon points="0.9,1.6 2.6,0.3 9.4,0.3 9.4,3.2 5,5.6 2.8,11.6 0.9,11.6" fill="#8a8a8a"/>
<polygon points="2.8,4.2 8.6,3.2 4.6,6.6 3.6,11.4 2.8,11.4" fill="#1a1a1a"/>
<path d="M2.2 2.4H8.6" stroke="#f4f4f4" stroke-width="0.9"/>
<rect x="1.2" y="3.8" width="1.2" height="7.4" fill="#f0f0f0"/>
<path d="M10.2 0.6V1.4M12.2 0.2V1.4M14.6 0.4V1.4M16.8 0.2V1.4" stroke="#111" stroke-width="0.7"/>
<rect x="11" y="5.6" width="0.8" height="0.9" fill="#fff"/>
<rect x="11" y="8" width="0.8" height="0.7" fill="#999"/>
<rect x="12.8" y="5.2" width="0.9" height="6" fill="#ddd"/>
<rect x="15" y="5.2" width="0.9" height="6" fill="#bbb"/>
<rect x="17.2" y="5.2" width="1.1" height="6" fill="#eee"/>
</g>
<path d="M105 367.4V370H129V367.4" fill="none" stroke="#333" stroke-width="0.9" stroke-dasharray="1.6 0.5"/>
<text x="102.7" y="351.1" font-family="Liberation Sans" font-size="5.24" font-weight="normal" fill="#000" stroke="#000" stroke-width="0.32" textLength="9.5" lengthAdjust="spacingAndGlyphs">PLC1</text>
<path d="M142.99 352.36H144.46M142.3 353.16H145.27M142.33 354.62H145.22M142.97 355.51H145.05M142.71 356.5H144.68M142.6 351.92V356.8M143.54 352.12V357.37M144.46 351.8V356.89M146.09 352.37H149.05M146.11 353.73H148.39M145.96 355.28H148.48M146.1 356.68H148.73M146.36 352.22V357.19M147.74 352.01V357.38M149.61 352.41H152.44M150.28 354.41H152.21M149.66 356.26H152.42M149.87 351.9V357.27M150.88 351.91V357.41M151.71 351.94V357.07M154.16 352.61H155.88M154.06 353.95H156.45M153.72 354.86H156.05M153.64 356.71H156.21M153.69 352.56V357.05M155.12 351.93V357.2M157.38 352.59H160.17M157.87 353.8H159.73M157.38 355.34H160.11M157.27 356.47H159.74M157.36 352.56V357.02M159.22 351.87V357.28M161.28 352.29H163.77M161.35 353.84H163.1M160.9 356.1H163.32M161.6 352.14V357.36M162.95 351.71V356.99M164.7 352.33H167.26M165.07 354.24H166.83M164.84 355.95H167.41M164.84 351.84V357.39M165.69 351.79V357.05M166.78 351.89V357.07" fill="none" stroke="#0a0a0a" stroke-width="0.95"/>
<text x="168" y="357.2" font-family="Liberation Sans" font-size="6.9" font-weight="normal" fill="#000" stroke="#000" stroke-width="0.32" textLength="10.3" lengthAdjust="spacingAndGlyphs">PLC1</text>
<path d="M142.62 360.47H145.15M142.31 361.48H145.32M143.16 362.81H145.06M143.03 363.97H144.95M142.58 359.81V365.5M144.76 359.48V365.13M146.75 359.85H149.29M146.58 362.42H149.62M147.01 364.43H149.3M147.51 359.74V364.95M148.92 359.52V365.06M151.87 360.1H153.52M151.39 361.68H153.58M151.26 363.66H153.69M151.37 360.1V365.56M152.84 360.05V365.35M155.59 359.8H158.69M155.55 362.43H157.83M156.05 363.62H158.26M155.57 359.7V365.51M157.43 360.08V365.41M160.26 360.83H162.97M159.76 362.47H162.98M159.62 364.13H162.82M160.25 360.3V365.55M161.13 360.08V364.87M162.08 359.48V365.38M163.77 360.52H167.28M164.1 361.6H166.94M164.05 362.98H166.57M164.46 364.28H167.03M164.49 359.78V365.08M165.7 360.08V364.81" fill="none" stroke="#0a0a0a" stroke-width="0.95"/>
<polyline points="90.7,360.7 66.4,360.7 66.4,572.4" fill="none" stroke="#4a4a4a" stroke-width="1.3" />
<text transform="translate(64.4 438) rotate(-90)" x="0" y="0" font-family="Liberation Sans" font-size="6.5" fill="#111" stroke="#000" stroke-width="0.25" textLength="39" lengthAdjust="spacingAndGlyphs">RS485(Modbus)</text>
<rect x="19.4" y="452" width="29" height="16.4" rx="0" fill="#fff" stroke="#333" stroke-width="1.1" />
<line x1="48.4" y1="460.4" x2="66.4" y2="460.4" stroke="#4a4a4a" stroke-width="1.3" />
<rect x="19.4" y="486.1" width="29" height="15.7" rx="0" fill="#fff" stroke="#333" stroke-width="1.1" />
<line x1="48.4" y1="493.9" x2="66.4" y2="493.9" stroke="#4a4a4a" stroke-width="1.3" />
<rect x="19.4" y="519.2" width="29" height="15.8" rx="0" fill="#fff" stroke="#333" stroke-width="1.1" />
<line x1="48.4" y1="527.5" x2="66.4" y2="527.5" stroke="#4a4a4a" stroke-width="1.3" />
<rect x="19.4" y="553.5" width="29" height="15.5" rx="0" fill="#fff" stroke="#333" stroke-width="1.1" />
<line x1="48.4" y1="560.7" x2="66.4" y2="560.7" stroke="#4a4a4a" stroke-width="1.3" />
<rect x="85" y="468.4" width="29" height="15" rx="0" fill="#fff" stroke="#333" stroke-width="1.1" />
<line x1="66.4" y1="477" x2="85" y2="477" stroke="#4a4a4a" stroke-width="1.3" />
<rect x="85" y="503.6" width="29" height="15.6" rx="0" fill="#fff" stroke="#333" stroke-width="1.1" />
<line x1="66.4" y1="511.8" x2="85" y2="511.8" stroke="#4a4a4a" stroke-width="1.3" />
<rect x="85" y="532.6" width="29" height="15.7" rx="0" fill="#fff" stroke="#333" stroke-width="1.1" />
<line x1="66.4" y1="541" x2="85" y2="541" stroke="#4a4a4a" stroke-width="1.3" />
<rect x="85" y="564" width="29" height="15.7" rx="0" fill="#fff" stroke="#333" stroke-width="1.1" />
<line x1="66.4" y1="572.4" x2="85" y2="572.4" stroke="#4a4a4a" stroke-width="1.3" />
<text x="13" y="476.8" font-family="Liberation Sans" font-size="5.8" font-weight="normal" fill="#000" stroke="#000" stroke-width="0.1" textLength="8" lengthAdjust="spacingAndGlyphs">10kV</text>
<path d="M21.42 473.29H23.86M21.83 474.05H23.93M22.01 475.7H24.3M21.84 472.68V476.88M22.42 472.69V476.6M23.48 472.72V476.52M25.37 472.53H27.63M25.95 473.75H27.98M25.01 474.31H27.37M25.2 475.42H28.09M25.9 476.44H27.73M25.89 472.3V476.96M26.64 472.4V477.09M29.16 472.85H31.65M28.81 474.3H31.06M28.88 475.15H31.22M29.41 476.47H31.17M29.27 472.34V476.78M31.06 472.75V476.87M33.36 472.51H35.33M32.49 473.86H35.37M33.45 474.67H35.34M33.27 475.35H35.04M32.76 476.31H35.5M33.01 472.55V477.07M33.75 472.82V477.19M34.64 472.6V476.75M37.03 473.1H38.74M36.75 474.22H39.2M37.15 475.74H39.29M36.73 472.63V476.88M38.28 472.67V476.55M40.17 473.17H43.26M40.07 474.77H42.43M40.59 476.03H42.37M40.4 472.92V476.7M41.62 472.29V476.97M42.31 472.32V476.49M44.54 472.87H46.11M44.27 474.8H46.66M44.31 475.87H46.34M44.08 472.37V476.59M45.95 472.92V477.18M48.14 472.94H50.28M48.3 473.87H50.48M47.59 474.41H50.02M48.37 475.41H50.61M48.41 476.28H49.94M48.08 472.42V477.08M49.02 472.64V477.11M49.82 472.24V477.01" fill="none" stroke="#0a0a0a" stroke-width="0.95"/>
<path d="M29.93 506.78H33.32M30.57 507.36H33.29M29.96 508.5H33.29M30.36 509.25H33.44M30.62 509.79H32.58M30.45 506.08V510.37M31.87 506.55V510.52M34.06 506.59H37.16M34.12 507.24H37.2M34.69 508.16H37.15M34.59 509.07H37.33M34.67 510.15H37.08M34.79 506.35V510.64M36.05 506.22V510.77" fill="none" stroke="#0a0a0a" stroke-width="0.95"/>
<text x="12.9" y="544.4" font-family="Liberation Sans" font-size="5.8" font-weight="normal" fill="#000" stroke="#000" stroke-width="0.1" textLength="17" lengthAdjust="spacingAndGlyphs">0.4kV 1#</text>
<path d="M30.3 540.39H33.13M30.84 541.65H33.48M31.17 542.74H32.79M30.79 543.49H32.99M30.73 539.88V544.76M32.59 540.19V544.55M35.12 540.89H36.99M34.78 541.64H36.78M34.33 543.87H36.84M34.49 540.54V544.5M35.43 539.94V544.21M36.55 540.03V544.5M38.43 540.29H40.67M38.57 541.87H40.63M38.4 542.87H41.32M38.94 543.53H40.9M38.84 540.28V544.63M39.83 539.86V544.67M40.6 540.21V544.64M42.94 540.49H44.55M42.87 541.28H45.05M42.61 542.72H45.1M42.31 543.9H45.1M42.51 540.24V544.65M44.35 540.43V544.14M46.54 540.33H48.93M46.98 541.87H49.34M46.82 543H48.88M46.73 543.53H49.28M46.25 540.05V544.46M48.2 539.92V544.29M50.74 540.53H52.94M50.25 541.03H53.26M50.01 542.12H53.1M49.91 542.92H52.69M49.99 543.87H53.08M50.21 540.25V544.29M52.34 539.84V544.25" fill="none" stroke="#0a0a0a" stroke-width="0.95"/>
<text x="13" y="578.6" font-family="Liberation Sans" font-size="5.8" font-weight="normal" fill="#000" stroke="#000" stroke-width="0.1" textLength="17" lengthAdjust="spacingAndGlyphs">0.4kV 2#</text>
<path d="M31.09 574.97H32.85M30.32 575.59H33.26M30.7 577.14H33.06M30.76 578.13H33.25M30.77 574.4V578.36M31.92 574.34V578.82M32.6 574.1V578.54M35.25 574.56H37.35M35.02 576.32H37.08M34.59 578.05H37.21M34.55 574.08V578.31M36.48 574.56V578.7M39.03 574.71H41.6M38.69 575.35H41.42M38.86 576.51H41.46M38.41 577.52H41.5M38.3 578.04H41.12M38.89 574.12V578.65M39.93 574.33V578.49M40.95 574.25V578.96M43.14 574.88H45.59M42.98 576.1H45.19M42.52 576.75H45.64M42.9 578.21H45.55M43.1 574.37V578.29M44.32 574.53V578.36M46.59 574.35H49.38M46.69 575.94H49.02M47.12 576.63H48.96M46.36 578.26H49.61M46.66 574.41V578.89M47.8 574.62V578.65M48.66 574.39V578.91M50.71 574.58H52.83M50.48 575.28H52.78M50.61 576.12H53.12M50.64 577.02H52.89M50.45 578.11H52.76M50.69 574.43V578.62M51.98 574.28V578.59M52.67 574.23V578.79" fill="none" stroke="#0a0a0a" stroke-width="0.95"/>
<text x="84" y="492.4" font-family="Liberation Sans" font-size="5.8" font-weight="normal" fill="#000" stroke="#000" stroke-width="0.1" textLength="9" lengthAdjust="spacingAndGlyphs">35kV</text>
<path d="M93.58 488.35H96.9M93.44 490.17H96.71M94.3 491.93H96.42M94.2 488.37V492.23M95.64 487.86V492.66M98.41 488.82H100.72M97.54 490.15H100.52M97.78 491.81H100.61M98.13 488.1V492.57M99.37 487.98V492.29M102.29 488.15H105.04M102.44 489.71H104.58M102.46 491.63H104.25M102.12 487.95V492.75M103.18 487.97V492.07M104.17 488.36V492.13M106.43 488.63H109.35M106.65 489.01H109.04M105.99 489.93H109.3M106.68 490.89H108.52M106.66 491.89H108.75M106.78 488.5V492.69M107.94 487.88V492.14M110.35 488.76H112.71M110.89 489.54H113.54M110.17 490.68H113.62M110.45 491.58H113.31M110.8 488.2V492.67M112.09 488.29V492.34" fill="none" stroke="#0a0a0a" stroke-width="0.95"/>
<text x="84" y="528.2" font-family="Liberation Sans" font-size="6.07" font-weight="normal" fill="#000" stroke="#000" stroke-width="0.1" textLength="9" lengthAdjust="spacingAndGlyphs">35kV</text>
<path d="M93.38 524.16H96.3M94.06 526.01H96.77M93.42 527.66H95.93M94.05 523.69V528.41M95.42 523.71V528.06M97.91 523.82H100.99M97.7 525.12H100.41M98.08 525.76H100.55M97.54 527.03H100.2M98.54 527.52H100.37M97.97 523.79V528.44M99.16 524.08V528.33M100.08 524.1V528.07M101.9 524.13H105.1M101.93 524.98H104.98M102.26 526.41H104.42M102.6 527.84H104.92M102.03 524.03V528.49M103.85 523.74V527.99M106 524.3H108.82M106.52 525.55H109.27M106.09 526.44H109.06M106.53 527.36H109.21M106.3 523.53V528.14M107.19 523.64V528.52M108.23 523.48V528.51M111.05 524.35H112.95M110.27 525.65H112.67M110.1 527.17H113M110.47 524V528.1M111.6 523.81V528.01M112.49 523.51V528.36" fill="none" stroke="#0a0a0a" stroke-width="0.95"/>
<text x="84" y="557.2" font-family="Liberation Sans" font-size="6.35" font-weight="normal" fill="#000" stroke="#000" stroke-width="0.1" textLength="11" lengthAdjust="spacingAndGlyphs">220kV</text>
<path d="M95.6 552.58H98.29M95.42 554.04H98.39M95.99 554.79H98.31M95.5 556.01H97.75M95.46 556.72H98M95.76 552.73V557.53M96.49 552.52V557.6M97.37 553.01V556.88M99.2 552.79H102.02M99.35 553.62H102.17M99.38 554.57H101.9M99.92 555.94H101.64M99.03 556.7H101.83M99.32 552.54V557.32M101.26 552.34V556.96M103.76 552.84H105.49M102.9 553.95H105.93M103.01 554.82H105.43M102.85 555.99H105.29M103.72 556.48H105.73M103.19 552.6V557.15M104.47 552.52V557.29M105.07 552.36V557.55M107.54 553.35H109.37M106.96 554.85H109.59M106.95 556H109.78M107.58 552.46V556.87M108.85 552.44V556.9M110.44 552.97H113.19M110.88 553.8H113.46M111.17 555.35H113.06M110.73 556.52H113.12M110.87 552.79V557.37M112.63 552.48V557.47" fill="none" stroke="#0a0a0a" stroke-width="0.95"/>
<text x="84" y="588.6" font-family="Liberation Sans" font-size="6.35" font-weight="normal" fill="#000" stroke="#000" stroke-width="0.1" textLength="11" lengthAdjust="spacingAndGlyphs">220kV</text>
<path d="M96.12 584.03H97.76M95.82 585.56H98.22M95.8 586.49H98.54M95.8 587.62H98.29M95.64 583.72V588.37M96.52 583.88V588.57M97.57 583.75V588.63M99.03 584.6H101.88M99.24 585.76H101.39M99.7 586.86H101.76M99.63 587.89H101.79M99.73 584.09V588.83M100.37 584.11V588.24M101.21 584.23V588.73M103.64 584.03H106.14M103.23 585.83H105.47M103.29 587.03H105.65M103.26 588.24H105.9M103.79 583.62V588.48M104.87 583.92V588.33M106.92 584.04H109.7M107.1 585.72H109.15M107.17 586.56H109.76M106.79 587.9H109.27M107.32 583.85V588.52M108.23 584.06V588.48M109.12 584.07V588.53M111.26 583.93H113.58M111.17 585.79H113.51M111.33 586.61H113.03M110.46 587.87H113.26M111.11 584.2V588.52M112.31 583.79V588.97" fill="none" stroke="#0a0a0a" stroke-width="0.95"/>
<rect x="208.6" y="356.7" width="15.2" height="11.3" rx="1" fill="#888" stroke="#111" stroke-width="1"/>
<path d="M208.9 357.4H223.5" stroke="#000" stroke-width="1.6"/>
<rect x="210.5" y="358.6" width="11.8" height="7.2" fill="#fff"/>
<text x="206.7" y="350.9" font-family="Liberation Sans" font-size="5.93" font-weight="normal" fill="#000" stroke="#000" stroke-width="0.32" textLength="9.2" lengthAdjust="spacingAndGlyphs">12.1&quot;</text>
<polyline points="224.2,362.6 231,362.6 231,343.4 260.9,343.4 260.9,334" fill="none" stroke="#4a4a4a" stroke-width="1.3" />
<polyline points="265.2,334 265.2,355" fill="none" stroke="#4a4a4a" stroke-width="1.3" />
<g transform="translate(246.2 356.2)">
<path d="M0.3 2.2Q0.3 1.2 1.5 1.2H19V12.4H2.6V13.4H1.2V12.4Q0.3 12.4 0.3 11.4Z" fill="#050505"/>
<polygon points="0.9,1.6 2.6,0.3 9.4,0.3 9.4,3.2 5,5.6 2.8,11.6 0.9,11.6" fill="#8a8a8a"/>
<polygon points="2.8,4.2 8.6,3.2 4.6,6.6 3.6,11.4 2.8,11.4" fill="#1a1a1a"/>
<path d="M2.2 2.4H8.6" stroke="#f4f4f4" stroke-width="0.9"/>
<rect x="1.2" y="3.8" width="1.2" height="7.4" fill="#f0f0f0"/>
<path d="M10.2 0.6V1.4M12.2 0.2V1.4M14.6 0.4V1.4M16.8 0.2V1.4" stroke="#111" stroke-width="0.7"/>
<rect x="11" y="5.6" width="0.8" height="0.9" fill="#fff"/>
<rect x="11" y="8" width="0.8" height="0.7" fill="#999"/>
<rect x="12.8" y="5.2" width="0.9" height="6" fill="#ddd"/>
<rect x="15" y="5.2" width="0.9" height="6" fill="#bbb"/>
<rect x="17.2" y="5.2" width="1.1" height="6" fill="#eee"/>
</g>
<g transform="translate(270.9 356.2)">
<path d="M0.3 2.2Q0.3 1.2 1.5 1.2H19V12.4H2.6V13.4H1.2V12.4Q0.3 12.4 0.3 11.4Z" fill="#050505"/>
<polygon points="0.9,1.6 2.6,0.3 9.4,0.3 9.4,3.2 5,5.6 2.8,11.6 0.9,11.6" fill="#8a8a8a"/>
<polygon points="2.8,4.2 8.6,3.2 4.6,6.6 3.6,11.4 2.8,11.4" fill="#1a1a1a"/>
<path d="M2.2 2.4H8.6" stroke="#f4f4f4" stroke-width="0.9"/>
<rect x="1.2" y="3.8" width="1.2" height="7.4" fill="#f0f0f0"/>
<path d="M10.2 0.6V1.4M12.2 0.2V1.4M14.6 0.4V1.4M16.8 0.2V1.4" stroke="#111" stroke-width="0.7"/>
<rect x="11" y="5.6" width="0.8" height="0.9" fill="#fff"/>
<rect x="11" y="8" width="0.8" height="0.7" fill="#999"/>
<rect x="12.8" y="5.2" width="0.9" height="6" fill="#ddd"/>
<rect x="15" y="5.2" width="0.9" height="6" fill="#bbb"/>
<rect x="17.2" y="5.2" width="1.1" height="6" fill="#eee"/>
</g>
<path d="M261.3 369.2V371.8H285.8V369.2" fill="none" stroke="#333" stroke-width="0.9" stroke-dasharray="1.6 0.5"/>
<text x="270.2" y="350.7" font-family="Liberation Sans" font-size="5.93" font-weight="normal" fill="#000" stroke="#000" stroke-width="0.32" textLength="10.7" lengthAdjust="spacingAndGlyphs">PLC3</text>
<path d="M292.77 362.36H294.93M292.23 363.25H294.93M292.18 364.73H295.02M292.11 366.16H295.22M292.66 362.14V367.07M293.94 361.75V366.49M296.25 362.1H299.29M296.36 363.94H299.32M296.52 365.43H299.24M297.25 362.29V366.63M298.69 362.3V366.41M300.69 362.32H303.77M300.97 363.43H304.26M301.45 364.01H303.72M300.81 365.19H303.48M301.47 366.19H304.25M301.04 362.17V366.68M302.53 362.06V366.97" fill="none" stroke="#0a0a0a" stroke-width="0.95"/>
<text x="304.6" y="367" font-family="Liberation Sans" font-size="7.18" font-weight="normal" fill="#000" stroke="#000" stroke-width="0.32" textLength="10.5" lengthAdjust="spacingAndGlyphs">PLC3</text>
<polyline points="246.2,362.5 233.2,362.5 233.2,563.6" fill="none" stroke="#4a4a4a" stroke-width="1.3" />
<text transform="translate(230.4 439.5) rotate(-90)" x="0" y="0" font-family="Liberation Sans" font-size="6.5" fill="#111" stroke="#000" stroke-width="0.25" textLength="40.5" lengthAdjust="spacingAndGlyphs">RS485(Modbus)</text>
<polyline points="265.6,371.8 265.6,428.4 322.6,428.4 322.6,617.6 342,617.6" fill="none" stroke="#4a4a4a" stroke-width="1.3" />
<line x1="265.6" y1="401" x2="283.3" y2="401" stroke="#4a4a4a" stroke-width="1.3" />
<g transform="translate(283.1 394.2)">
<path d="M0.3 2.2Q0.3 1.2 1.5 1.2H19V12.4H2.6V13.4H1.2V12.4Q0.3 12.4 0.3 11.4Z" fill="#050505"/>
<polygon points="0.9,1.6 2.6,0.3 9.4,0.3 9.4,3.2 5,5.6 2.8,11.6 0.9,11.6" fill="#8a8a8a"/>
<polygon points="2.8,4.2 8.6,3.2 4.6,6.6 3.6,11.4 2.8,11.4" fill="#1a1a1a"/>
<path d="M2.2 2.4H8.6" stroke="#f4f4f4" stroke-width="0.9"/>
<rect x="1.2" y="3.8" width="1.2" height="7.4" fill="#f0f0f0"/>
<path d="M10.2 0.6V1.4M12.2 0.2V1.4M14.6 0.4V1.4M16.8 0.2V1.4" stroke="#111" stroke-width="0.7"/>
<rect x="11" y="5.6" width="0.8" height="0.9" fill="#fff"/>
<rect x="11" y="8" width="0.8" height="0.7" fill="#999"/>
<rect x="12.8" y="5.2" width="0.9" height="6" fill="#ddd"/>
<rect x="15" y="5.2" width="0.9" height="6" fill="#bbb"/>
<rect x="17.2" y="5.2" width="1.1" height="6" fill="#eee"/>
</g>
<text x="287.3" y="391.1" font-family="Liberation Sans" font-size="6.07" font-weight="normal" fill="#000" stroke="#000" stroke-width="0.32" textLength="13.4" lengthAdjust="spacingAndGlyphs">PLC3.3</text>
<path d="M280.81 411.54H282.65M280.74 412.12H283.28M280.71 412.98H282.97M280.69 413.86H283.25M280.52 414.96H283.31M280.85 411.22V415.24M281.62 411.06V415.3M282.35 411.02V415.41M284.6 411.48H286.72M284.62 413.04H286.82M284.63 414.25H286.39M284.19 411.13V415.18M285.86 411.53V415.58M287.61 411.3H290.35M287.6 412.61H290.2M287.58 413.54H289.64M287.93 414.65H290.22M287.89 411.24V415.15M288.95 411.21V415.37M289.67 411.39V415.22M291.85 411.41H293.55M291.2 412.35H293.96M291.52 413.39H293.71M291.85 414.47H293.89M291.44 411.53V415.52M292.35 411.15V415.4M293.44 411.28V415.01" fill="none" stroke="#0a0a0a" stroke-width="0.95"/>
<rect x="251.2" y="454.5" width="29.1" height="15.9" rx="0" fill="#fff" stroke="#333" stroke-width="1.1" />
<line x1="233.2" y1="462.5" x2="251.2" y2="462.5" stroke="#4a4a4a" stroke-width="1.3" />
<rect x="251.2" y="487.9" width="29.1" height="15.9" rx="0" fill="#fff" stroke="#333" stroke-width="1.1" />
<line x1="233.2" y1="496.3" x2="251.2" y2="496.3" stroke="#4a4a4a" stroke-width="1.3" />
<rect x="251.2" y="521.5" width="29.1" height="16" rx="0" fill="#fff" stroke="#333" stroke-width="1.1" />
<line x1="233.2" y1="529.5" x2="251.2" y2="529.5" stroke="#4a4a4a" stroke-width="1.3" />
<rect x="251.2" y="556" width="29.1" height="15.6" rx="0" fill="#fff" stroke="#333" stroke-width="1.1" />
<line x1="233.2" y1="563.6" x2="251.2" y2="563.6" stroke="#4a4a4a" stroke-width="1.3" />
<path d="M244.32 474.96H246.37M244.02 475.93H246.2M243.8 476.79H246.32M244.06 477.67H246.39M243.32 478.6H246.23M243.59 474.78V478.63M244.6 474.35V479.24M245.61 474.54V478.71M248.2 474.77H250.11M248.44 476.39H250.23M247.97 477.8H250.64M248.39 475.02V478.92M249.71 474.73V478.68M251.65 475.12H254.23M251.8 476H254.78M251.57 476.79H254.23M251.71 477.31H254.14M252.14 478.74H254.41M252.34 474.36V478.69M253.61 474.86V478.65M255.83 474.83H258.9M255.64 476.14H258.21M256 477.73H258.25M256.21 474.98V478.69M257.08 474.84V478.57M257.96 474.68V478.59M260.74 475.05H262.92M260.08 475.61H263.06M260.25 476.68H263.09M260.42 477.36H262.68M260.37 478.47H262.99M260.16 474.34V479.09M261.13 474.75V478.61M262.15 474.57V478.84M264.4 475.38H266.4M264.63 476.65H266.87M264.55 477.9H267M264.37 474.85V479.13M266.25 475.05V478.69M268.87 474.73H271.09M269 476.24H270.84M268.31 477.91H270.79M268.63 474.37V479.14M270.1 474.63V479.05M272.08 474.85H274.75M272.91 476.43H274.99M272.38 477.7H275.09M272.97 474.39V478.77M274.34 474.98V479.04M277.27 474.68H278.8M277.22 476.52H279.16M276.52 478.31H279.1M276.67 474.73V478.59M278.57 474.97V479.22M280.92 474.7H283.54M280.44 475.98H283.43M280.77 476.87H283.62M280.94 478.14H283.32M281.07 474.95V478.8M282.87 475.03V478.97M285.01 475.31H287.31M284.91 476.61H286.97M285.11 478.38H287.4M285.38 474.95V478.79M286.54 474.49V478.57" fill="none" stroke="#0a0a0a" stroke-width="0.95"/>
<path d="M295.35 475.25H297M294.61 476.15H297.63M294.36 477.81H297.01M294.62 474.69V478.61M295.7 474.79V478.71M296.56 474.6V479.24M298.7 474.62H301.25M299.13 475.51H301.03M298.53 476.46H301.62M299.28 477.77H301.6M298.63 478.67H301.01M299.24 474.68V479.28M300.22 474.88V479.02M302.29 475.37H305.38M303.06 476.25H304.63M303.06 478.27H305.28M302.55 474.55V479.29M303.51 474.64V478.63M304.76 474.69V478.86M307.11 474.91H309.05M307.08 475.93H308.69M306.62 477.42H308.6M306.15 478.64H309.04M306.77 474.59V478.82M307.93 475V479.21" fill="none" stroke="#0a0a0a" stroke-width="0.95"/>
<path d="M243.37 508.59H246.5M243.96 509.52H245.99M243.88 510.64H245.98M244.28 511.8H246.09M243.9 508.46V512.4M245.11 508.03V512.81M247.76 508.56H250.23M248.14 510.5H250.18M248.07 511.66H250.67M247.66 508.46V512.67M249.1 508.06V512.61M249.94 508.36V512.37M252.22 508.48H254.87M252.47 510.32H254.14M252.53 511.69H255.05M252.01 508.05V512.72M253.09 507.95V512.5M254.28 508.32V512.88M255.72 508.43H259.15M255.74 509.49H258.51M256.44 510.47H258.19M256.37 511.01H258.17M255.72 512.32H258.14M255.97 508.37V512.95M257.89 508.2V512.41M260.53 508.16H262.74M260.74 509.37H263.26M259.73 510.48H262.51M259.82 511.18H262.74M259.75 512.31H263.08M260.12 507.84V513.03M262.14 508.19V513.02M264.03 508.03H267.31M264.65 509.45H266.91M264.28 510.28H267.33M264.34 511.52H266.45M264.13 512.36H267.42M264.45 507.91V512.86M265.19 508.21V512.96M266.6 508.43V512.3M268.37 508.05H270.6M268.66 509.47H271.26M268.6 510.47H270.92M267.97 512.03H271.06M268.66 507.94V512.63M269.69 507.76V512.81M270.4 507.91V512.47M272.68 508.16H275.48M272.88 510.41H275.3M273 511.36H275.62M272.52 507.92V512.82M274.11 508.08V512.99M276.44 508.65H278.86M276.58 510.31H279.3M276.41 511.66H279.07M276.84 508.16V512.89M278.63 508.29V513.07M280.61 508.3H282.98M280.43 509.33H283.37M281.08 510.48H282.97M281.21 511.8H282.99M281.09 508.34V512.77M281.88 508.13V512.72M282.74 507.95V512.52M285.52 508.4H287.26M284.43 510.47H287.99M284.54 511.85H287.34M285.02 508.43V512.44M285.79 507.77V512.94M287.16 508.38V512.59" fill="none" stroke="#0a0a0a" stroke-width="0.95"/>
<path d="M294.88 508.43H297.07M294.86 510.45H296.95M295.03 512.16H297.27M295.31 508.13V512.69M296.72 508.37V512.67M298.9 508.1H300.96M298.4 509.09H301.47M299.12 510.17H301.51M299 511.39H301M298.77 512.48H301.63M298.78 508.11V513M300.57 508V512.92M302.85 508.49H304.9M302.75 509.47H305.49M302.72 510.57H305M302.73 511.88H304.86M302.75 507.81V513.06M304.41 508.22V512.98M306.76 508.37H308.97M306.92 509.22H309.06M306.21 510.51H308.64M306.55 511.28H308.81M306.39 512.1H308.88M306.49 507.87V512.48M308.07 507.93V512.58" fill="none" stroke="#0a0a0a" stroke-width="0.95"/>
<path d="M247.62 544.03H250.61M247.65 545.3H250.38M247.68 546.64H250.04M247.67 543.08V547.51M249.55 543.55V547.53M251.43 543.93H253.96M252.39 544.78H254.74M251.38 545.84H254.85M252.44 547.07H254.26M252 543.33V547.32M253.33 543.28V547.8M256.29 544.07H258.44M256.51 545.32H258.41M255.68 546.76H258.55M256.46 543.2V547.84M257.35 543.28V547.6M260.09 543.89H262.93M260.27 544.56H263.08M260.39 546.17H262.95M259.98 546.84H263.18M259.87 543.67V547.37M261.04 543.36V547.37M262.08 543.29V547.4M264.49 543.55H267.18M263.84 544.69H267.14M263.9 545.62H266.5M264.63 547.31H266.48M264.48 543.25V547.3M265.58 543.36V547.85M268.8 543.68H270.69M268.66 545.66H270.8M267.82 547.04H270.65M268.32 543.55V547.94M270.02 543.46V547.45M272.35 543.75H275.52M272.71 545.15H275.48M272.37 546.97H275.21M272.91 543.22V547.54M273.87 543.67V547.42M277.07 543.33H278.65M276.79 544.54H279.4M276.62 545.92H279.04M276.22 547.3H279.13M276.76 543.07V547.36M277.5 543.38V547.94M278.6 543.04V547.48M280.17 544.01H282.79M280.3 544.99H282.9M280.58 546.83H282.69M280.46 543.27V547.99M281.59 543.32V547.73M282.92 543.22V547.86" fill="none" stroke="#0a0a0a" stroke-width="0.95"/>
<path d="M290.8 543.46H293.02M290.51 544.53H292.95M290.24 545.36H292.7M290.35 546.4H293.25M290.93 547.39H293.44M290.21 543.73V547.64M291.77 543.66V547.35M292.47 543.49V547.41M295.45 543.78H298.57M294.74 544.37H298.69M294.6 545.28H298.59M295.48 546.52H297.59M294.62 547.37H297.66M294.93 543.07V547.54M296.21 543.64V547.56M297.34 543.69V547.82M300.59 543.5H302.54M300.04 545.49H303.65M299.98 546.55H303.28M300.21 543.03V547.78M301.86 543.58V547.58" fill="none" stroke="#0a0a0a" stroke-width="0.95"/>
<text x="246" y="583" font-family="Liberation Sans" font-size="6.35" font-weight="normal" fill="#000" stroke="#000" stroke-width="0.1" textLength="11" lengthAdjust="spacingAndGlyphs">0.4kV</text>
<path d="M259.54 578.97H261.33M259.19 580.83H261.9M259.29 582.45H261.85M259.3 578.8V583.1M260.05 578.66V583.3M261.21 578.33V583.45M263.19 578.6H265.89M263.57 579.36H265.57M262.59 580.54H265.82M262.88 581.41H265.37M262.87 582.56H265.71M263.26 578.56V583.27M264.52 578.1V582.96M267.21 579.09H269.71M266.59 580.01H269.07M266.53 581.02H269.77M266.79 582.65H269.72M266.88 578.06V582.8M267.85 578.02V583.19M268.81 578.08V583.16M271.11 578.42H273.48M271.2 580.33H273.09M270.53 580.96H273.19M271.19 582.53H272.96M271.1 578.23V583.09M272.33 578.4V583.46M274.61 578.51H276.88M274.17 579.75H276.92M275.05 580.86H276.64M274.9 582.49H276.89M274.91 578.69V582.77M275.9 578.34V582.98M278.22 578.46H280.88M278.62 579.66H281.23M278.3 581.07H280.88M278.08 582.41H280.71M278.71 578.09V583.24M279.44 578.69V582.98M280.31 578.43V583.42" fill="none" stroke="#0a0a0a" stroke-width="0.95"/>
<g transform="translate(340 550)">
<path d="M0.3 2.2Q0.3 1.2 1.5 1.2H19V12.4H2.6V13.4H1.2V12.4Q0.3 12.4 0.3 11.4Z" fill="#050505"/>
<polygon points="0.9,1.6 2.6,0.3 9.4,0.3 9.4,3.2 5,5.6 2.8,11.6 0.9,11.6" fill="#8a8a8a"/>
<polygon points="2.8,4.2 8.6,3.2 4.6,6.6 3.6,11.4 2.8,11.4" fill="#1a1a1a"/>
<path d="M2.2 2.4H8.6" stroke="#f4f4f4" stroke-width="0.9"/>
<rect x="1.2" y="3.8" width="1.2" height="7.4" fill="#f0f0f0"/>
<path d="M10.2 0.6V1.4M12.2 0.2V1.4M14.6 0.4V1.4M16.8 0.2V1.4" stroke="#111" stroke-width="0.7"/>
<rect x="11" y="5.6" width="0.8" height="0.9" fill="#fff"/>
<rect x="11" y="8" width="0.8" height="0.7" fill="#999"/>
<rect x="12.8" y="5.2" width="0.9" height="6" fill="#ddd"/>
<rect x="15" y="5.2" width="0.9" height="6" fill="#bbb"/>
<rect x="17.2" y="5.2" width="1.1" height="6" fill="#eee"/>
</g>
<text x="344.4" y="547" font-family="Liberation Sans" font-size="6.35" font-weight="normal" fill="#000" stroke="#000" stroke-width="0.32" textLength="13.6" lengthAdjust="spacingAndGlyphs">PLC3.2</text>
<path d="M332.89 569.5H335.15M333.19 570.77H335.16M332.89 571.46H335.29M332.92 572.42H335.75M332.59 569.06V573.56M333.8 569.61V573.51M334.77 569.04V573.37M336.49 569.83H339.85M337.36 570.5H339.32M336.87 571.56H339.82M336.97 572.99H339.4M337.32 569.03V573.31M338.95 569.25V573.15M341.77 570.08H343.47M341.55 571.17H344.11M341.25 572.7H343.72M341.02 569.25V573.28M342.17 569.63V573.24M343.5 569.54V573.52M345.32 569.36H347.89M345.84 570.62H347.67M344.92 571.46H347.59M345.57 572.87H347.57M345.53 569.43V573.22M346.41 569.43V573.45M347.69 569.34V573.22M349.89 569.81H351.88M350.25 570.91H352.38M349.76 571.48H352.36M349.63 572.67H352.73M350.05 569.68V573.57M351.55 569.52V573.24M353.47 569.52H356.4M353.91 571.01H356.83M353.48 572.82H356.49M353.84 569.58V573.17M355.32 569.47V573.47M358.36 569.59H360.37M357.84 570.47H360.2M357.97 571.21H360.7M357.86 572.25H361.17M357.98 573.04H360.63M358.16 569.16V573.08M358.98 569.22V573.46M360.26 569.63V573.09M362.62 569.3H364.5M362.35 571.05H364.97M362.03 572.41H364.48M362.72 569.04V573.48M363.76 569.03V573.38M366.54 569.54H368.8M366.53 571.24H368.89M367.08 572.3H369.06M366.46 569.14V573.51M368.49 569.64V573.6" fill="none" stroke="#0a0a0a" stroke-width="0.95"/>
<rect x="352" y="586" width="1" height="1.2" fill="#333"/>
<rect x="352" y="591" width="1" height="1.2" fill="#333"/>
<rect x="352" y="596" width="1" height="1.2" fill="#333"/>
<g transform="translate(342 610)">
<path d="M0.3 2.2Q0.3 1.2 1.5 1.2H19V12.4H2.6V13.4H1.2V12.4Q0.3 12.4 0.3 11.4Z" fill="#050505"/>
<polygon points="0.9,1.6 2.6,0.3 9.4,0.3 9.4,3.2 5,5.6 2.8,11.6 0.9,11.6" fill="#8a8a8a"/>
<polygon points="2.8,4.2 8.6,3.2 4.6,6.6 3.6,11.4 2.8,11.4" fill="#1a1a1a"/>
<path d="M2.2 2.4H8.6" stroke="#f4f4f4" stroke-width="0.9"/>
<rect x="1.2" y="3.8" width="1.2" height="7.4" fill="#f0f0f0"/>
<path d="M10.2 0.6V1.4M12.2 0.2V1.4M14.6 0.4V1.4M16.8 0.2V1.4" stroke="#111" stroke-width="0.7"/>
<rect x="11" y="5.6" width="0.8" height="0.9" fill="#fff"/>
<rect x="11" y="8" width="0.8" height="0.7" fill="#999"/>
<rect x="12.8" y="5.2" width="0.9" height="6" fill="#ddd"/>
<rect x="15" y="5.2" width="0.9" height="6" fill="#bbb"/>
<rect x="17.2" y="5.2" width="1.1" height="6" fill="#eee"/>
</g>
<text x="345.6" y="608" font-family="Liberation Sans" font-size="6.07" font-weight="normal" fill="#000" stroke="#000" stroke-width="0.32" textLength="13.4" lengthAdjust="spacingAndGlyphs">PLC3.8</text>
<path d="M334.16 629.07H336.76M333.87 630.1H336.75M333.81 631.42H336.9M333.87 632.83H336.39M333.8 628.35V632.97M335.4 628.09V632.85M338.66 629.04H341M337.86 629.63H341.26M338.34 631.53H340.27M338.01 632.66H341.02M338.65 628.25V633.08M339.97 628.02V633.15M342.18 628.76H344.96M342.54 629.69H345.02M342.97 631.11H345.19M342.26 632.55H344.73M342.47 628.77V633.07M344.55 628.72V633.26M347.32 629.14H349.27M347.36 630.07H349.5M346.33 631.74H349.14M346.63 628.15V633M348.18 628.16V632.92M350.94 628.94H353.42M351.22 630.39H353.3M351.64 632.07H354.36M350.99 628.15V632.9M352.02 628.25V633.37M353.38 628.34V633.2M355.92 628.81H358.53M355.85 630.41H358.13M354.99 632.36H358.73M355.34 628.35V633.39M356.4 628.12V632.9M357.59 628.08V632.82M359.33 629.05H362.01M359.78 631.01H362.14M360.31 632.05H362.66M360.15 628.27V633.53M361.83 628.09V633.21M363.99 628.83H367.22M364.19 630.68H367.12M363.78 631.84H367.03M363.94 628.41V633.56M365.45 628.06V632.8M366.13 628.06V633.18M368.97 628.46H370.78M368.01 629.52H370.67M368.73 630.88H371.24M368.84 631.4H370.82M368.1 632.54H371.45M368.45 628.36V632.83M370.42 628.12V633.26" fill="none" stroke="#0a0a0a" stroke-width="0.95"/>
<rect x="358.3" y="357.5" width="15.2" height="11.3" rx="1" fill="#888" stroke="#111" stroke-width="1"/>
<path d="M358.6 358.2H373.2" stroke="#000" stroke-width="1.6"/>
<rect x="360.2" y="359.4" width="11.8" height="7.2" fill="#fff"/>
<text x="356.2" y="351" font-family="Liberation Sans" font-size="5.93" font-weight="normal" fill="#000" stroke="#000" stroke-width="0.32" textLength="9.4" lengthAdjust="spacingAndGlyphs">12.1&quot;</text>
<polyline points="373.8,362.7 380.7,362.7 380.7,343.8 410,343.8 410,334" fill="none" stroke="#4a4a4a" stroke-width="1.3" />
<polyline points="414.4,334 414.4,354.6" fill="none" stroke="#4a4a4a" stroke-width="1.3" />
<polyline points="418.9,334 418.9,343.8 441.1,343.8 441.1,354.6" fill="none" stroke="#4a4a4a" stroke-width="1.3" />
<g transform="translate(408.2 354.4)">
<path d="M0.3 2.2Q0.3 1.2 1.5 1.2H19V12.4H2.6V13.4H1.2V12.4Q0.3 12.4 0.3 11.4Z" fill="#050505"/>
<polygon points="0.9,1.6 2.6,0.3 9.4,0.3 9.4,3.2 5,5.6 2.8,11.6 0.9,11.6" fill="#8a8a8a"/>
<polygon points="2.8,4.2 8.6,3.2 4.6,6.6 3.6,11.4 2.8,11.4" fill="#1a1a1a"/>
<path d="M2.2 2.4H8.6" stroke="#f4f4f4" stroke-width="0.9"/>
<rect x="1.2" y="3.8" width="1.2" height="7.4" fill="#f0f0f0"/>
<path d="M10.2 0.6V1.4M12.2 0.2V1.4M14.6 0.4V1.4M16.8 0.2V1.4" stroke="#111" stroke-width="0.7"/>
<rect x="11" y="5.6" width="0.8" height="0.9" fill="#fff"/>
<rect x="11" y="8" width="0.8" height="0.7" fill="#999"/>
<rect x="12.8" y="5.2" width="0.9" height="6" fill="#ddd"/>
<rect x="15" y="5.2" width="0.9" height="6" fill="#bbb"/>
<rect x="17.2" y="5.2" width="1.1" height="6" fill="#eee"/>
</g>
<g transform="translate(432.2 354.4)">
<path d="M0.3 2.2Q0.3 1.2 1.5 1.2H19V12.4H2.6V13.4H1.2V12.4Q0.3 12.4 0.3 11.4Z" fill="#050505"/>
<polygon points="0.9,1.6 2.6,0.3 9.4,0.3 9.4,3.2 5,5.6 2.8,11.6 0.9,11.6" fill="#8a8a8a"/>
<polygon points="2.8,4.2 8.6,3.2 4.6,6.6 3.6,11.4 2.8,11.4" fill="#1a1a1a"/>
<path d="M2.2 2.4H8.6" stroke="#f4f4f4" stroke-width="0.9"/>
<rect x="1.2" y="3.8" width="1.2" height="7.4" fill="#f0f0f0"/>
<path d="M10.2 0.6V1.4M12.2 0.2V1.4M14.6 0.4V1.4M16.8 0.2V1.4" stroke="#111" stroke-width="0.7"/>
<rect x="11" y="5.6" width="0.8" height="0.9" fill="#fff"/>
<rect x="11" y="8" width="0.8" height="0.7" fill="#999"/>
<rect x="12.8" y="5.2" width="0.9" height="6" fill="#ddd"/>
<rect x="15" y="5.2" width="0.9" height="6" fill="#bbb"/>
<rect x="17.2" y="5.2" width="1.1" height="6" fill="#eee"/>
</g>
<path d="M423.3 366.3V368.9H447.8V366.3" fill="none" stroke="#333" stroke-width="0.9" stroke-dasharray="1.6 0.5"/>
<text x="420" y="351" font-family="Liberation Sans" font-size="5.93" font-weight="normal" fill="#000" stroke="#000" stroke-width="0.32" textLength="10" lengthAdjust="spacingAndGlyphs">PLC4</text>
<path d="M454.95 357.2H457.86M454.7 358.99H457.42M454.77 359.61H457.46M454.23 361.59H457.7M454.92 357.14V361.87M455.98 357.21V362.04M456.94 357.37V361.91M459.46 357.52H462.03M458.58 358.52H462.4M458.75 359.94H461.78M458.75 361.64H461.53M459.69 357.38V362.04M461.05 357.08V362.37" fill="none" stroke="#0a0a0a" stroke-width="0.95"/>
<text x="462.8" y="362.2" font-family="Liberation Sans" font-size="7.18" font-weight="normal" fill="#000" stroke="#000" stroke-width="0.32" textLength="11.4" lengthAdjust="spacingAndGlyphs">PLC4</text>
<path d="M454.25 364.73H457.32M454.34 366.66H457.39M454.84 367.9H457.55M454.45 369.06H457M454.6 364.9V369.67M456.37 364.95V369.78M458.82 365.3H461.02M458.54 366.11H460.68M458.29 367.52H461.21M458.07 368.82H461.2M458.45 364.85V369.49M459.67 365V369.5M460.54 364.98V369.58M462.14 365.06H464.68M462.97 365.7H464.58M462.8 367.09H465.33M462.46 368.45H464.96M462.27 369.49H465M462.69 364.35V369.76M464.18 364.65V370.28M466.37 365.54H468.52M466.23 367.07H469.13M466.78 368.48H469.33M466.45 365.04V370.37M467.92 364.55V369.75M470.36 365.37H472.99M470.2 366.89H473.21M470.42 368.75H473.08M470.87 364.35V370M472.18 364.47V369.49M474.24 365.04H477.41M474.44 366.56H477.29M474.67 369.29H477.46M474.44 365.02V369.66M476.34 364.25V369.94M479.02 365.09H481.5M479.09 367.52H481.08M478.47 369.32H481.31M478.32 364.53V370.28M480.12 364.68V370.04M482.38 365.1H484.74M482.86 366.26H485M482.2 367.03H485.08M482.6 368.29H484.73M482.47 369.16H485.36M482.38 364.33V370.33M483.6 364.8V370.38M484.59 365.02V370.4M486.14 365.12H489M487.01 366.06H488.65M486.64 367.47H489.29M486.83 368.01H489.45M486.75 369.65H488.93M486.33 365.02V370.23M488.24 364.45V370.09M490.09 364.95H493.08M490.63 366.02H493.27M490.3 366.87H492.53M490.35 368.02H493.11M490.57 369.71H493.38M490.8 364.66V369.6M491.52 364.52V369.67M492.78 364.48V369.97M494.94 364.7H496.56M494.51 366.29H496.77M494.69 367.81H497.01M494.52 368.84H496.86M494.41 364.62V369.76M496.13 364.41V369.78M498.92 365.09H501.18M498.07 366.3H500.88M498.33 367.07H501.45M498.71 368.4H500.77M498.3 369.35H501.37M498.79 364.98V369.5M499.66 364.41V370.18M500.63 364.54V370.39M502.38 365.21H505.54M503.08 366.43H504.99M502.76 367.93H505.22M502.98 368.97H504.87M502.95 364.71V369.74M504.35 364.56V369.73" fill="none" stroke="#0a0a0a" stroke-width="0.95"/>
<polyline points="408.2,360 392,360 392,492.9 374.4,492.9" fill="none" stroke="#4a4a4a" stroke-width="1.3" />
<line x1="374.4" y1="459.6" x2="392" y2="459.6" stroke="#4a4a4a" stroke-width="1.3" />
<text transform="translate(389.8 440.5) rotate(-90)" x="0" y="0" font-family="Liberation Sans" font-size="5.72" fill="#111" stroke="#000" stroke-width="0.25" textLength="39" lengthAdjust="spacingAndGlyphs">RS485(Modbus)</text>
<rect x="345.1" y="451.6" width="29.3" height="16.2" rx="0" fill="#fff" stroke="#333" stroke-width="1.1" />
<rect x="345.1" y="485.6" width="29.3" height="15.5" rx="0" fill="#fff" stroke="#333" stroke-width="1.1" />
<text x="339.3" y="477.4" font-family="Liberation Sans" font-size="6.9" font-weight="normal" fill="#000" stroke="#000" stroke-width="0.32" textLength="14" lengthAdjust="spacingAndGlyphs">0.4kV 1#</text>
<path d="M353.94 472.87H357M354.14 474.38H356.68M354.41 476.17H357.04M354.59 472.23V476.96M356.01 472.63V477.32M358.82 472.68H361.55M359.05 473.51H361.5M358.65 474.78H361.09M358.3 475.62H361M358.84 476.52H361.13M358.66 472.71V477.49M360.91 473V477.16M363.27 473H366.04M363.17 474.34H366.29M363.67 475.66H366.47M362.64 476.66H366.33M363.58 472.57V477.09M364.72 472.25V476.81M367.13 472.56H370.85M367.71 473.84H370.52M367.42 475.66H369.75M367.47 476.23H370.87M367.75 472.58V477.18M369.31 472.51V477.34M371.5 473.18H374.35M372.14 474.13H375.14M371.98 475.49H375.2M372.07 476.54H374.4M371.89 472.75V477.06M372.93 472.41V477.48M374.16 472.54V476.81M375.95 472.88H379.19M376.85 473.66H378.86M376.7 474.89H379.53M376.89 475.69H379.31M376.34 476.47H379.7M376.9 472.78V477.46M378.42 472.86V477.25" fill="none" stroke="#0a0a0a" stroke-width="0.95"/>
<text x="339.3" y="511.2" font-family="Liberation Sans" font-size="6.9" font-weight="normal" fill="#000" stroke="#000" stroke-width="0.32" textLength="14" lengthAdjust="spacingAndGlyphs">0.4kV 2#</text>
<path d="M354.92 506.98H357.01M354.01 507.89H356.95M354.17 508.91H357.36M353.77 509.68H356.97M354.81 510.6H356.83M354.34 506.23V510.71M356.41 506.53V511.18M358.26 506.84H362.06M359.16 508.21H361.53M359.15 510.21H361.54M359.01 506.92V511.37M360.21 506.77V511.22M363.59 506.99H366.1M363.59 508.53H365.52M362.67 510.27H365.43M363.29 506.96V510.83M365.32 506.89V510.7M368.04 506.55H370.24M367.15 508.16H370.52M367.88 509.06H370.76M367.59 510.4H369.84M367.72 506.61V510.78M368.77 506.31V510.7M369.91 506.75V510.74M372.25 507.43H374.27M372.2 508.56H374.72M371.56 509.82H374.66M371.92 506.27V511.22M373.02 506.23V510.68M374.38 506.36V510.96M375.86 506.73H378.66M376.41 508.26H379.71M376.91 509.76H378.72M376.8 506.64V511.2M378.21 506.78V511.15" fill="none" stroke="#0a0a0a" stroke-width="0.95"/>
<polyline points="437.3,369 437.3,490 454.4,490" fill="none" stroke="#4a4a4a" stroke-width="1.3" />
<line x1="437.3" y1="411.1" x2="454.4" y2="411.1" stroke="#4a4a4a" stroke-width="1.3" />
<line x1="437.3" y1="447.8" x2="454.4" y2="447.8" stroke="#4a4a4a" stroke-width="1.3" />
<g transform="translate(454.2 404.8)">
<path d="M0.3 2.2Q0.3 1.2 1.5 1.2H19V12.4H2.6V13.4H1.2V12.4Q0.3 12.4 0.3 11.4Z" fill="#050505"/>
<polygon points="0.9,1.6 2.6,0.3 9.4,0.3 9.4,3.2 5,5.6 2.8,11.6 0.9,11.6" fill="#8a8a8a"/>
<polygon points="2.8,4.2 8.6,3.2 4.6,6.6 3.6,11.4 2.8,11.4" fill="#1a1a1a"/>
<path d="M2.2 2.4H8.6" stroke="#f4f4f4" stroke-width="0.9"/>
<rect x="1.2" y="3.8" width="1.2" height="7.4" fill="#f0f0f0"/>
<path d="M10.2 0.6V1.4M12.2 0.2V1.4M14.6 0.4V1.4M16.8 0.2V1.4" stroke="#111" stroke-width="0.7"/>
<rect x="11" y="5.6" width="0.8" height="0.9" fill="#fff"/>
<rect x="11" y="8" width="0.8" height="0.7" fill="#999"/>
<rect x="12.8" y="5.2" width="0.9" height="6" fill="#ddd"/>
<rect x="15" y="5.2" width="0.9" height="6" fill="#bbb"/>
<rect x="17.2" y="5.2" width="1.1" height="6" fill="#eee"/>
</g>
<g transform="translate(454.4 442)">
<path d="M0.3 2.2Q0.3 1.2 1.5 1.2H19V12.4H2.6V13.4H1.2V12.4Q0.3 12.4 0.3 11.4Z" fill="#050505"/>
<polygon points="0.9,1.6 2.6,0.3 9.4,0.3 9.4,3.2 5,5.6 2.8,11.6 0.9,11.6" fill="#8a8a8a"/>
<polygon points="2.8,4.2 8.6,3.2 4.6,6.6 3.6,11.4 2.8,11.4" fill="#1a1a1a"/>
<path d="M2.2 2.4H8.6" stroke="#f4f4f4" stroke-width="0.9"/>
<rect x="1.2" y="3.8" width="1.2" height="7.4" fill="#f0f0f0"/>
<path d="M10.2 0.6V1.4M12.2 0.2V1.4M14.6 0.4V1.4M16.8 0.2V1.4" stroke="#111" stroke-width="0.7"/>
<rect x="11" y="5.6" width="0.8" height="0.9" fill="#fff"/>
<rect x="11" y="8" width="0.8" height="0.7" fill="#999"/>
<rect x="12.8" y="5.2" width="0.9" height="6" fill="#ddd"/>
<rect x="15" y="5.2" width="0.9" height="6" fill="#bbb"/>
<rect x="17.2" y="5.2" width="1.1" height="6" fill="#eee"/>
</g>
<g transform="translate(454.4 484)">
<path d="M0.3 2.2Q0.3 1.2 1.5 1.2H19V12.4H2.6V13.4H1.2V12.4Q0.3 12.4 0.3 11.4Z" fill="#050505"/>
<polygon points="0.9,1.6 2.6,0.3 9.4,0.3 9.4,3.2 5,5.6 2.8,11.6 0.9,11.6" fill="#8a8a8a"/>
<polygon points="2.8,4.2 8.6,3.2 4.6,6.6 3.6,11.4 2.8,11.4" fill="#1a1a1a"/>
<path d="M2.2 2.4H8.6" stroke="#f4f4f4" stroke-width="0.9"/>
<rect x="1.2" y="3.8" width="1.2" height="7.4" fill="#f0f0f0"/>
<path d="M10.2 0.6V1.4M12.2 0.2V1.4M14.6 0.4V1.4M16.8 0.2V1.4" stroke="#111" stroke-width="0.7"/>
<rect x="11" y="5.6" width="0.8" height="0.9" fill="#fff"/>
<rect x="11" y="8" width="0.8" height="0.7" fill="#999"/>
<rect x="12.8" y="5.2" width="0.9" height="6" fill="#ddd"/>
<rect x="15" y="5.2" width="0.9" height="6" fill="#bbb"/>
<rect x="17.2" y="5.2" width="1.1" height="6" fill="#eee"/>
</g>
<text x="457.8" y="402.2" font-family="Liberation Sans" font-size="6.07" font-weight="normal" fill="#000" stroke="#000" stroke-width="0.32" textLength="12" lengthAdjust="spacingAndGlyphs">PLC5.1</text>
<path d="M471.1 398.29H472.99M470.82 399.13H473.14M470.43 400.33H473.36M470.63 401.75H473.86M471.13 398.09V402.29M472.85 398.37V402.19M474.67 398.23H477.21M475.52 399.68H477.42M475.42 400.93H477.07M474.86 397.82V401.87M476.26 397.93V401.97M477.07 398.42V401.91M478.72 398.88H482.31M479.12 399.61H481.72M478.83 401.5H481.44M479.23 397.92V402.15M480.72 398.22V402.32M483.23 398.46H485.9M483.28 399.32H485.77M483.89 400.32H485.53M483.75 401.4H486.27M483.66 398.25V402.13M485.08 398V401.8M487.56 398.23H489.79M487.14 399.62H489.76M487.14 400.93H490.28M487.37 398.44V402.29M488.9 397.84V401.73M489.63 397.83V402.08" fill="none" stroke="#0a0a0a" stroke-width="0.95"/>
<path d="M452.96 422.31H455.34M452.56 423.62H455.71M452.29 424.58H455.91M452.46 425.57H455.14M452.63 422.34V426.07M454.46 421.87V426.08M457.71 422.25H459.39M457.65 424.4H460.24M457.09 425.81H460.48M457.19 422.07V426.53M458.22 422.31V426.25M459.11 422.11V426.32M461.63 422.77H464.45M461.2 424.4H464.84M462.02 425.76H464.47M461.48 422.13V426.38M462.97 422.39V426.02M463.67 422.07V426.5M466.63 422.1H468.61M466.6 423.22H468.65M466.54 424.54H469.27M465.77 425.44H468.36M466.16 422.22V426.3M467.74 421.8V426.39M470.71 422.62H473.7M470.32 423.31H473.77M471.1 424.49H473.77M471.23 425.88H473.72M470.83 422.36V426.28M472.09 422.02V426.32M475.46 422.7H478.19M475.59 423.45H478.51M475.37 424.5H477.85M475.4 425.63H477.91M475.67 422.48V426.28M476.96 422.28V426.65" fill="none" stroke="#0a0a0a" stroke-width="0.95"/>
<text x="454.4" y="441.1" font-family="Liberation Sans" font-size="6.07" font-weight="normal" fill="#000" stroke="#000" stroke-width="0.32" textLength="12" lengthAdjust="spacingAndGlyphs">PLC5.2</text>
<path d="M466.78 437.07H470.54M466.91 438.02H469.51M467.68 439.31H469.6M467.4 440.22H470.65M467.1 437.2V441.17M468.31 437.08V440.9M469.69 437.35V440.74M471.62 437.09H474.98M471.62 438.53H475.01M472.03 439.22H474.9M471.31 440.3H474.34M472.34 437.25V440.95M473.99 437.24V440.67M476.75 437.03H479.69M476.78 438.41H479.75M476.45 439.42H479.3M476.55 440.24H479.52M476.52 436.81V441.15M477.67 436.73V440.76M478.86 436.85V440.78M481.43 437.11H484.48M480.5 438.37H483.39M480.57 439.19H484.26M480.62 440.63H484.51M481.63 436.89V441.21M482.87 436.83V440.89M485.11 437.56H489.08M485.66 438.57H488.83M485.51 439.4H489.01M485.98 440.14H488.15M485.96 437.33V441.28M487.33 436.88V441.25" fill="none" stroke="#0a0a0a" stroke-width="0.95"/>
<path d="M452.79 459.43H454.9M452.62 460.94H455.31M453.05 462.09H455.07M452.44 463.3H454.78M452.88 458.97V463.66M454.17 459.64V463.8M456.58 459.76H459.09M456.61 460.23H459.98M457.09 461.79H459.92M457.33 462.37H459.37M456.9 463.68H459.69M456.78 459.41V463.87M458.36 459.24V464.17M461.01 459.93H463.31M461.28 461.24H463.96M460.61 462.93H463.83M461.19 459.12V463.73M462.1 459.03V463.96M462.98 459.36V463.97M465.75 459.84H468.17M465.47 460.89H468.15M465.47 462.11H468.06M465.22 462.98H467.95M465.42 458.97V464.16M467.28 459.1V464.19M469.58 459.57H471.93M469.63 460.71H471.67M469.17 462.33H471.66M469.92 463.27H471.69M469.51 459.71V464.33M471.25 459.08V463.68M473.82 459.33H476.56M474.19 461.33H476.54M473.42 463.3H476.1M473.51 459.43V463.66M475.47 459.35V464.02M477.99 459.56H480.03M477.85 461.64H480.93M477.64 463.3H480.16M478.25 459.19V463.6M479.57 459.56V464.28M482.08 459.48H484.9M482.11 461.81H484.45M482.12 463.07H485.12M482.3 459.23V464.2M483.95 459.09V463.81" fill="none" stroke="#0a0a0a" stroke-width="0.95"/>
<text x="454.4" y="481.7" font-family="Liberation Sans" font-size="6.07" font-weight="normal" fill="#000" stroke="#000" stroke-width="0.32" textLength="12" lengthAdjust="spacingAndGlyphs">PLC5.3</text>
<path d="M467.78 477.62H469.93M467.41 478.55H470.63M467.4 479.64H470.79M466.72 480.31H471M467.45 481.34H469.86M467.43 477.81V481.44M469.76 477.31V481.44M472.42 478H475.33M471.88 479.07H474.79M472.31 480.22H474.83M472.19 480.72H476.02M472.34 477.79V481.53M473.44 477.81V481.75M474.62 477.66V481.37M477.08 477.85H480M477.72 478.69H480.21M476.98 479.31H480.39M476.75 480.09H480.01M477.71 481.34H480.43M477.55 477.54V481.42M479.65 477.9V481.36M482.56 477.87H485.51M481.84 479.14H485.34M481.77 480.74H485.77M482.59 477.55V481.72M483.9 477.57V481.23M487.53 478H490.74M487.83 479.38H491.02M487.6 480.73H491.09M487.73 477.33V481.24M489.57 477.62V481.22" fill="none" stroke="#0a0a0a" stroke-width="0.95"/>
<text x="451.8" y="505.4" font-family="Liberation Sans" font-size="6.9" font-weight="normal" fill="#000" stroke="#000" stroke-width="0.32" textLength="8" lengthAdjust="spacingAndGlyphs">PAC</text>
<path d="M460.96 500.75H463.86M460.88 502.69H463.33M460.48 503.92H463.49M460.57 501.12V505.27M462.66 501.08V505.1M465.56 500.72H468.28M464.95 502.51H467.82M465.44 503.18H468.53M465.41 504.61H467.82M465.66 501.03V505.38M467.09 500.57V505.02M469.85 500.85H473.48M469.75 503.05H473.42M469.89 504.14H472.68M469.93 500.63V505.35M472.37 501.16V504.93M474.98 501.46H477.39M475.06 502.47H477.39M474.83 504.38H477.49M474.57 500.71V505.37M476.01 500.8V505.12M476.83 500.68V505.59M479.37 501.19H482.87M479.04 501.74H481.89M479.38 502.8H482.61M479.53 504.04H482.89M479.49 504.7H482.47M480.03 500.71V505.24M481.24 500.88V504.85" fill="none" stroke="#0a0a0a" stroke-width="0.95"/>
<rect x="556.1" y="357.2" width="15.2" height="11.3" rx="1" fill="#888" stroke="#111" stroke-width="1"/>
<path d="M556.4 357.9H571" stroke="#000" stroke-width="1.6"/>
<rect x="558" y="359.1" width="11.8" height="7.2" fill="#fff"/>
<text x="554" y="351" font-family="Liberation Sans" font-size="5.93" font-weight="normal" fill="#000" stroke="#000" stroke-width="0.32" textLength="9.3" lengthAdjust="spacingAndGlyphs">12.1&quot;</text>
<polyline points="572.2,362.7 577.8,362.7 577.8,343.8 608.2,343.8 608.2,334" fill="none" stroke="#4a4a4a" stroke-width="1.3" />
<polyline points="612.7,334 612.7,354.4" fill="none" stroke="#4a4a4a" stroke-width="1.3" />
<polyline points="616.2,334 616.2,343.8 638.9,343.8 638.9,354.4" fill="none" stroke="#4a4a4a" stroke-width="1.3" />
<g transform="translate(606 354.2)">
<path d="M0.3 2.2Q0.3 1.2 1.5 1.2H19V12.4H2.6V13.4H1.2V12.4Q0.3 12.4 0.3 11.4Z" fill="#050505"/>
<polygon points="0.9,1.6 2.6,0.3 9.4,0.3 9.4,3.2 5,5.6 2.8,11.6 0.9,11.6" fill="#8a8a8a"/>
<polygon points="2.8,4.2 8.6,3.2 4.6,6.6 3.6,11.4 2.8,11.4" fill="#1a1a1a"/>
<path d="M2.2 2.4H8.6" stroke="#f4f4f4" stroke-width="0.9"/>
<rect x="1.2" y="3.8" width="1.2" height="7.4" fill="#f0f0f0"/>
<path d="M10.2 0.6V1.4M12.2 0.2V1.4M14.6 0.4V1.4M16.8 0.2V1.4" stroke="#111" stroke-width="0.7"/>
<rect x="11" y="5.6" width="0.8" height="0.9" fill="#fff"/>
<rect x="11" y="8" width="0.8" height="0.7" fill="#999"/>
<rect x="12.8" y="5.2" width="0.9" height="6" fill="#ddd"/>
<rect x="15" y="5.2" width="0.9" height="6" fill="#bbb"/>
<rect x="17.2" y="5.2" width="1.1" height="6" fill="#eee"/>
</g>
<g transform="translate(630 354.2)">
<path d="M0.3 2.2Q0.3 1.2 1.5 1.2H19V12.4H2.6V13.4H1.2V12.4Q0.3 12.4 0.3 11.4Z" fill="#050505"/>
<polygon points="0.9,1.6 2.6,0.3 9.4,0.3 9.4,3.2 5,5.6 2.8,11.6 0.9,11.6" fill="#8a8a8a"/>
<polygon points="2.8,4.2 8.6,3.2 4.6,6.6 3.6,11.4 2.8,11.4" fill="#1a1a1a"/>
<path d="M2.2 2.4H8.6" stroke="#f4f4f4" stroke-width="0.9"/>
<rect x="1.2" y="3.8" width="1.2" height="7.4" fill="#f0f0f0"/>
<path d="M10.2 0.6V1.4M12.2 0.2V1.4M14.6 0.4V1.4M16.8 0.2V1.4" stroke="#111" stroke-width="0.7"/>
<rect x="11" y="5.6" width="0.8" height="0.9" fill="#fff"/>
<rect x="11" y="8" width="0.8" height="0.7" fill="#999"/>
<rect x="12.8" y="5.2" width="0.9" height="6" fill="#ddd"/>
<rect x="15" y="5.2" width="0.9" height="6" fill="#bbb"/>
<rect x="17.2" y="5.2" width="1.1" height="6" fill="#eee"/>
</g>
<path d="M620 366.3V368.9H644.4V366.3" fill="none" stroke="#333" stroke-width="0.9" stroke-dasharray="1.6 0.5"/>
<text x="618.4" y="351" font-family="Liberation Sans" font-size="5.93" font-weight="normal" fill="#000" stroke="#000" stroke-width="0.32" textLength="9.4" lengthAdjust="spacingAndGlyphs">PLC2</text>
<path d="M652.51 358.64H654.68M652.39 359.99H654.26M652.47 361.65H654.81M652.86 357.91V361.89M653.93 358.46V362.38M656.36 358.23H657.92M655.7 359.68H657.91M655.66 360.4H658M655.53 361.73H657.68M656.11 358.31V361.78M656.66 358.1V362.35M657.57 358.48V362.25M659.26 358.4H661.51M659.34 359.18H662M659.88 360.36H661.47M659.32 361.48H662.01M659.32 358.18V362.18M660.13 357.92V362.1M661.05 357.82V361.8M663.03 358.45H665.45M663.13 359.47H664.67M663.24 361.01H665.16M663.15 357.81V361.84M663.62 357.93V361.96M664.72 358.2V362.09" fill="none" stroke="#0a0a0a" stroke-width="0.95"/>
<text x="665.8" y="362.2" font-family="Liberation Sans" font-size="6.07" font-weight="normal" fill="#000" stroke="#000" stroke-width="0.32" textLength="9.8" lengthAdjust="spacingAndGlyphs">PLC2</text>
<polyline points="620,369 620,401.1 636.7,401.1" fill="none" stroke="#4a4a4a" stroke-width="1.3" />
<g transform="translate(636.7 393.8)">
<path d="M0.3 2.2Q0.3 1.2 1.5 1.2H19V12.4H2.6V13.4H1.2V12.4Q0.3 12.4 0.3 11.4Z" fill="#050505"/>
<polygon points="0.9,1.6 2.6,0.3 9.4,0.3 9.4,3.2 5,5.6 2.8,11.6 0.9,11.6" fill="#8a8a8a"/>
<polygon points="2.8,4.2 8.6,3.2 4.6,6.6 3.6,11.4 2.8,11.4" fill="#1a1a1a"/>
<path d="M2.2 2.4H8.6" stroke="#f4f4f4" stroke-width="0.9"/>
<rect x="1.2" y="3.8" width="1.2" height="7.4" fill="#f0f0f0"/>
<path d="M10.2 0.6V1.4M12.2 0.2V1.4M14.6 0.4V1.4M16.8 0.2V1.4" stroke="#111" stroke-width="0.7"/>
<rect x="11" y="5.6" width="0.8" height="0.9" fill="#fff"/>
<rect x="11" y="8" width="0.8" height="0.7" fill="#999"/>
<rect x="12.8" y="5.2" width="0.9" height="6" fill="#ddd"/>
<rect x="15" y="5.2" width="0.9" height="6" fill="#bbb"/>
<rect x="17.2" y="5.2" width="1.1" height="6" fill="#eee"/>
</g>
<text x="641" y="391" font-family="Liberation Sans" font-size="5.93" font-weight="normal" fill="#000" stroke="#000" stroke-width="0.32" textLength="12.3" lengthAdjust="spacingAndGlyphs">PLC2.1</text>
<path d="M629.16 412.44H631.77M629.16 414.34H632.1M629.41 416.55H631.46M630 412.56V417.54M630.83 412.06V417.37M633.85 412.5H635.59M633.63 413.53H635.91M632.95 415.04H635.52M633.02 416.32H635.66M633.35 412.21V417.15M634.49 412V417.75M635.26 412.68V417.22M636.88 412.28H639.82M636.66 414.29H639.88M636.95 415.43H639.34M637.03 416.69H639.53M637.31 412.35V417.49M638.46 412.6V417.07M640.76 412.93H643.11M640.61 413.66H643.39M640.51 415.13H643.42M641.28 417H642.8M640.93 412.28V417.51M642.14 412V417.17M645.04 412.55H647.34M644.94 413.45H647.39M644.31 414.54H647.2M644.5 415.53H646.84M644.71 416.89H647.38M645.06 412.26V417.23M646.42 412.52V417.28M648 412.22H650.52M648.23 414.53H650.44M648.11 416.47H651.16M648.3 412.02V416.93M649.3 412.03V417.78M650.04 412.13V417.46M652.12 412.21H654.35M651.79 414.35H654.6M651.98 416.75H654.03M652.13 411.99V417.07M653.12 412.18V417.7M653.98 412.39V417.28M655.69 412.5H657.76M655.46 414.63H658M655.52 415.79H658.27M655.93 411.8V416.97M656.73 411.95V417.62M657.54 412.6V417.58" fill="none" stroke="#0a0a0a" stroke-width="0.95"/>
<path d="M671.29 383.62H673.67M671.23 384.9H673.54M671.23 387.04H674.08M672.13 383.69V387.84M673.17 383.29V387.85M675.14 383.53H677.7M675.25 384.38H677.32M675.78 385.17H677.75M675.64 386.34H678.11M675.12 387.53H677.49M675.73 383.21V387.7M676.96 383.68V388.04M679.45 383.43H681.93M679.36 385.02H681.45M679.65 387.13H681.49M679.16 383.12V388.19M679.94 383.3V387.74M681.12 383.08V387.61M683.4 383.49H685.18M683.05 384.21H685.28M682.82 385.42H684.93M682.67 386.61H684.89M683.24 387.08H685.7M682.8 383.46V388.11M684.48 383.27V387.45M686.87 383.72H689.07M686.41 385.5H689.21M686.74 387.15H688.92M686.76 383.1V387.67M688.44 382.93V388M690.19 383.63H692.72M690.72 385.24H693.06M690.15 386.92H692.38M690.43 383.16V388.07M691.96 383.66V387.7M693.88 383.6H696.29M694.01 384.19H696.29M694.4 385.69H696.32M694.56 386.42H696.94M693.8 387.05H696.04M694.28 383.41V388.06M695.74 383V387.84M697.95 383.78H699.96M698.03 384.35H699.9M698.11 385.59H700.12M697.78 386.63H700.35M697.75 387.07H700.1M698.02 383.09V387.6M699.02 382.9V387.76M699.66 383.51V387.97" fill="none" stroke="#0a0a0a" stroke-width="0.95"/>
<path d="M5.15 602.97H6.7M5.14 604.51H7.16M4.63 608.07H7.61M4.75 602.73V609.33M6.63 602.6V608.32M8.22 602.62H11.07M8.9 603.81H11.09M8.38 605.13H10.67M8.82 606.57H11.31M8.23 608.44H11.22M8.85 601.9V608.93M9.91 602.74V608.73" fill="none" stroke="#0a0a0a" stroke-width="1"/>
<text x="11.4" y="609.4" font-family="Liberation Sans" font-size="8" font-weight="bold" fill="#111">:</text>
<line x1="14.4" y1="613.9" x2="43.3" y2="613.9" stroke="#555" stroke-width="1.5" />
<line x1="14.4" y1="628.1" x2="43.3" y2="628.1" stroke="#555" stroke-width="1.5" />
<line x1="14.4" y1="643.1" x2="43.3" y2="643.1" stroke="#555" stroke-width="1.5" />
<text x="55.6" y="618" font-family="Liberation Sans" font-size="7.73" font-weight="normal" fill="#000" stroke="#000" stroke-width="0.32" textLength="15" lengthAdjust="spacingAndGlyphs">Control</text>
<path d="M71.81 612.9H75.06M71.99 614.69H74.23M71.09 616.27H74.25M71.61 612.35V617.48M72.87 612.42V617.51M74.07 613.02V617.98M76.1 612.57H78.79M75.69 614.62H79.72M76.52 616.95H78.72M76.41 612.21V618.23M77.78 612.71V617.84M78.61 612.28V618.26M80.96 612.71H83.66M80.89 614.18H84.53M81.17 615.48H83.56M80.86 617.24H84.4M80.99 612.96V617.94M82.7 612.51V617.59" fill="none" stroke="#0a0a0a" stroke-width="0.95"/>
<text x="55.6" y="632.6" font-family="Liberation Sans" font-size="7.45" font-weight="normal" fill="#000" stroke="#000" stroke-width="0.32" textLength="14.5" lengthAdjust="spacingAndGlyphs">Modbus</text>
<path d="M70.83 628.19H74.52M71.11 629.67H73.97M71.09 630.98H74.55M70.95 627.83V632.77M73.13 627.82V632.46M76.36 627.36H79.51M76.58 629.19H79.31M75.77 630.09H79.26M76.58 631.68H78.62M76.14 627.47V632.28M77.51 627.74V632.02M78.37 627.53V632.7" fill="none" stroke="#0a0a0a" stroke-width="0.95"/>
<path d="M55.97 640.74H59.93M56.27 641.59H59.68M56.03 642.68H59.93M56.55 644.25H60.09M56.82 644.77H59.21M57.09 640.71V645.29M58.54 640.59V646.02M61.69 641.03H63.99M61.46 642.67H63.62M61.74 644.18H64.43M61.07 640.72V645.99M62.39 640.39V645.69M63.75 640.77V645.61M65.64 641.21H68.72M65.98 642.58H69.26M65.89 645.08H69.13M65.93 640.72V645.65M67.56 640.33V645.75M70.55 641.26H73.9M70.53 642.2H73.39M70.92 644.57H74.33M70.76 640.38V645.4M72.92 640.62V645.34" fill="none" stroke="#0a0a0a" stroke-width="0.95"/>
</svg>
</body></html>
